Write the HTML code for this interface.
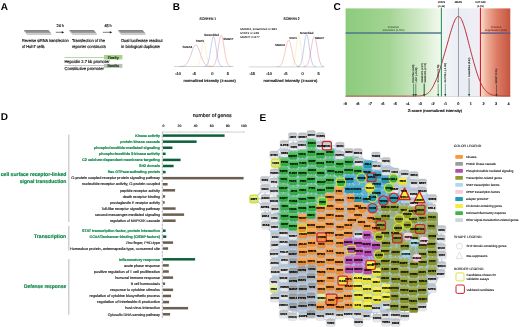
<!DOCTYPE html>
<html lang="en"><head><meta charset="utf-8"><title>Figure</title>
<style>
html,body{margin:0;padding:0;background:#fff;}
body{width:520px;height:327px;overflow:hidden;}
svg{display:block;text-rendering:geometricPrecision;font-family:"Liberation Sans",sans-serif;}
</style></head><body>
<svg width="520" height="327" viewBox="0 0 520 327">
<defs>
<linearGradient id="pl" x1="0" y1="0" x2="0" y2="1"><stop offset="0" stop-color="#7e7e7e"/><stop offset="1" stop-color="#a8a8a8"/></linearGradient>
<linearGradient id="gg" x1="0" y1="0" x2="1" y2="0"><stop offset="0" stop-color="#8ccb7c"/><stop offset="0.45" stop-color="#a3d493"/><stop offset="0.8" stop-color="#d3ebca"/><stop offset="1" stop-color="#f4faf1"/></linearGradient>
<linearGradient id="gb" x1="0" y1="0" x2="1" y2="0"><stop offset="0" stop-color="#f3f6f6"/><stop offset="0.5" stop-color="#e9edf6"/><stop offset="1" stop-color="#f1eef4"/></linearGradient>
<linearGradient id="gr" x1="0" y1="0" x2="1" y2="0"><stop offset="0" stop-color="#fae3d8"/><stop offset="0.2" stop-color="#efb09a"/><stop offset="0.55" stop-color="#dd7c66"/><stop offset="1" stop-color="#c3563f"/></linearGradient>
<linearGradient id="ng" x1="0" y1="0" x2="0" y2="1"><stop offset="0" stop-color="#b9bbbe"/><stop offset="0.5" stop-color="#d6d8da"/><stop offset="1" stop-color="#f1f1f2"/></linearGradient>
<linearGradient id="nk" x1="0" y1="0" x2="0" y2="1"><stop offset="0" stop-color="#8f9499"/><stop offset="1" stop-color="#bcc0c5"/></linearGradient>
<linearGradient id="nG" x1="0" y1="0" x2="0" y2="1"><stop offset="0" stop-color="#6fc87a"/><stop offset="0.5" stop-color="#37b246"/><stop offset="1" stop-color="#34a742"/></linearGradient><linearGradient id="nO" x1="0" y1="0" x2="0" y2="1"><stop offset="0" stop-color="#f8b371"/><stop offset="0.5" stop-color="#f5963a"/><stop offset="1" stop-color="#e68d37"/></linearGradient><linearGradient id="nB" x1="0" y1="0" x2="0" y2="1"><stop offset="0" stop-color="#63b7ca"/><stop offset="0.5" stop-color="#279bb6"/><stop offset="1" stop-color="#2592ab"/></linearGradient><linearGradient id="nT" x1="0" y1="0" x2="0" y2="1"><stop offset="0" stop-color="#acb566"/><stop offset="0.5" stop-color="#8c982a"/><stop offset="1" stop-color="#848f27"/></linearGradient><linearGradient id="nM" x1="0" y1="0" x2="0" y2="1"><stop offset="0" stop-color="#d07ec8"/><stop offset="0.5" stop-color="#be4cb2"/><stop offset="1" stop-color="#b347a7"/></linearGradient><linearGradient id="nY" x1="0" y1="0" x2="0" y2="1"><stop offset="0" stop-color="#f6f170"/><stop offset="0.5" stop-color="#f3ec38"/><stop offset="1" stop-color="#e4de35"/></linearGradient><linearGradient id="nP" x1="0" y1="0" x2="0" y2="1"><stop offset="0" stop-color="#fad9e5"/><stop offset="0.5" stop-color="#f8cadb"/><stop offset="1" stop-color="#e9bece"/></linearGradient><linearGradient id="nS" x1="0" y1="0" x2="0" y2="1"><stop offset="0" stop-color="#c1e5ee"/><stop offset="0.5" stop-color="#a9dbe8"/><stop offset="1" stop-color="#9fceda"/></linearGradient><linearGradient id="nW" x1="0" y1="0" x2="0" y2="1"><stop offset="0" stop-color="#e9f0ae"/><stop offset="0.5" stop-color="#e0ea8e"/><stop offset="1" stop-color="#d3dc85"/></linearGradient></defs>
<rect width="520" height="327" fill="#fff"/>
<text x="0.8" y="9.6" font-size="10" font-weight="bold" fill="#000" stroke="#000" stroke-width="0">A</text>
<text x="172.8" y="9.6" font-size="10" font-weight="bold" fill="#000" stroke="#000" stroke-width="0">B</text>
<text x="333.6" y="9.6" font-size="10" font-weight="bold" fill="#000" stroke="#000" stroke-width="0">C</text>
<text x="0.8" y="120.4" font-size="10" font-weight="bold" fill="#000" stroke="#000" stroke-width="0">D</text>
<text x="259.6" y="120.8" font-size="10" font-weight="bold" fill="#000" stroke="#000" stroke-width="0">E</text>
<polygon points="23.8,30 48.400000000000006,30 51.400000000000006,33.4 26.8,33.4" fill="url(#pl)"/>
<polygon points="26.8,33.4 51.400000000000006,33.4 51.400000000000006,34.9 27.400000000000002,34.9" fill="#c9c9c9"/>
<polygon points="23.8,30 26.8,33.4 27.400000000000002,34.9 24.2,31.4" fill="#b5b5b5"/>
<polygon points="69.2,30 93.80000000000001,30 96.80000000000001,33.4 72.2,33.4" fill="url(#pl)"/>
<polygon points="72.2,33.4 96.80000000000001,33.4 96.80000000000001,34.9 72.8,34.9" fill="#c9c9c9"/>
<polygon points="69.2,30 72.2,33.4 72.8,34.9 69.60000000000001,31.4" fill="#b5b5b5"/>
<polygon points="118.0,30 142.6,30 145.6,33.4 121.0,33.4" fill="url(#pl)"/>
<polygon points="121.0,33.4 145.6,33.4 145.6,34.9 121.6,34.9" fill="#c9c9c9"/>
<polygon points="118.0,30 121.0,33.4 121.6,34.9 118.4,31.4" fill="#b5b5b5"/>
<line x1="55.8" y1="32.3" x2="62.7" y2="32.3" stroke="#111" stroke-width="0.55"/>
<polygon points="64.2,32.3 61.800000000000004,31.199999999999996 61.800000000000004,33.4" fill="#111"/>
<line x1="102.8" y1="32.3" x2="110.7" y2="32.3" stroke="#111" stroke-width="0.55"/>
<polygon points="112.2,32.3 109.8,31.199999999999996 109.8,33.4" fill="#111"/>
<text x="60.2" y="27.4" font-size="4.1" text-anchor="middle" textLength="7.2" lengthAdjust="spacingAndGlyphs" fill="#222" stroke="#222" stroke-width="0.18">24 h</text>
<text x="108.0" y="27.4" font-size="4.1" text-anchor="middle" textLength="7.2" lengthAdjust="spacingAndGlyphs" fill="#222" stroke="#222" stroke-width="0.18">48 h</text>
<text x="21.9" y="42.4" font-size="4.3" textLength="46.8" lengthAdjust="spacingAndGlyphs" fill="#161616" stroke="#161616" stroke-width="0.18">Reverse siRNA transfection</text>
<text x="21.9" y="47.6" font-size="4.3" textLength="22.6" lengthAdjust="spacingAndGlyphs" fill="#161616" stroke="#161616" stroke-width="0.18">of Huh7 cells</text>
<text x="71.9" y="42.4" font-size="4.3" textLength="33.0" lengthAdjust="spacingAndGlyphs" fill="#161616" stroke="#161616" stroke-width="0.18">Transfection of the</text>
<text x="71.9" y="47.6" font-size="4.3" textLength="33.9" lengthAdjust="spacingAndGlyphs" fill="#161616" stroke="#161616" stroke-width="0.18">reporter constructs</text>
<text x="121.2" y="42.4" font-size="4.3" textLength="41.4" lengthAdjust="spacingAndGlyphs" fill="#161616" stroke="#161616" stroke-width="0.18">Dual luciferase readout</text>
<text x="121.2" y="47.6" font-size="4.3" textLength="38.6" lengthAdjust="spacingAndGlyphs" fill="#161616" stroke="#161616" stroke-width="0.18">in biological duplicate</text>
<rect x="64.4" y="57.0" width="39.8" height="0.55" fill="#7dbb55"/>
<rect x="104" y="55.0" width="18.4" height="4.5" fill="#a9d18e"/>
<text x="113.2" y="58.5" font-size="3.5" text-anchor="middle" textLength="11.0" lengthAdjust="spacingAndGlyphs" font-weight="bold" fill="#1d3a14" stroke="#1d3a14" stroke-width="0.18">Firefly</text>
<text x="64.4" y="62.6" font-size="4.3" textLength="45.2" lengthAdjust="spacingAndGlyphs" fill="#161616" stroke="#161616" stroke-width="0.18">Hepcidin 2.7 kb promoter</text>
<rect x="64.4" y="65.2" width="39.8" height="0.55" fill="#9a9a9a"/>
<rect x="104" y="63.9" width="18.4" height="4.0" fill="#b9c4b6"/>
<text x="113.2" y="67.1" font-size="3.5" text-anchor="middle" textLength="11.4" lengthAdjust="spacingAndGlyphs" font-weight="bold" fill="#2a332a" stroke="#2a332a" stroke-width="0.18">Renilla</text>
<text x="64.4" y="70.2" font-size="4.3" textLength="39.6" lengthAdjust="spacingAndGlyphs" fill="#161616" stroke="#161616" stroke-width="0.18">Constitutive promoter</text>
<text x="207.8" y="20.3" font-size="3.7" text-anchor="middle" textLength="16.4" lengthAdjust="spacingAndGlyphs" fill="#222" stroke="#222" stroke-width="0.18">SCREEN 1</text>
<rect x="174" y="66.4" width="59.4" height="0.5" fill="#a3a9b8"/>
<path d="M179.6,66.57 L180.1,66.55 L180.6,66.53 L181.1,66.50 L181.6,66.45 L182.1,66.39 L182.6,66.31 L183.1,66.20 L183.6,66.05 L184.1,65.86 L184.6,65.62 L185.1,65.32 L185.6,64.94 L186.1,64.48 L186.6,63.93 L187.1,63.27 L187.6,62.49 L188.1,61.60 L188.6,60.59 L189.1,59.47 L189.6,58.24 L190.1,56.92 L190.6,55.52 L191.1,54.08 L191.6,52.63 L192.1,51.20 L192.6,49.83 L193.1,48.56 L193.6,47.43 L194.1,46.49 L194.6,45.75 L195.1,45.26 L195.6,45.02 L196.1,45.05 L196.6,45.34 L197.1,45.88 L197.6,46.66 L198.1,47.64 L198.6,48.80 L199.1,50.09 L199.6,51.48 L200.1,52.92 L200.6,54.37 L201.1,55.80 L201.6,57.19 L202.1,58.49 L202.6,59.70 L203.1,60.81 L203.6,61.79 L204.1,62.66 L204.6,63.41 L205.1,64.05 L205.6,64.58 L206.1,65.03 L206.6,65.39 L207.1,65.68 L207.6,65.91 L208.1,66.08 L208.6,66.22 L209.1,66.33 L209.6,66.40 L210.1,66.46 L210.6,66.50 L211.1,66.53 L211.6,66.55" fill="none" stroke="#a8527a" stroke-width="0.36" opacity="0.9"/>
<path d="M195.5,66.56 L196.0,66.52 L196.5,66.43 L197.0,66.27 L197.5,66.00 L198.0,65.53 L198.5,64.80 L199.0,63.70 L199.5,62.16 L200.0,60.10 L200.5,57.52 L201.0,54.51 L201.5,51.24 L202.0,48.00 L202.5,45.10 L203.0,42.90 L203.5,41.69 L204.0,41.61 L204.5,42.70 L205.0,44.79 L205.5,47.62 L206.0,50.85 L206.5,54.13 L207.0,57.18 L207.5,59.81 L208.0,61.94 L208.5,63.54 L209.0,64.69 L209.5,65.46 L210.0,65.95 L210.5,66.25 L211.0,66.42 L211.5,66.51 L212.0,66.56" fill="none" stroke="#f3d48a" stroke-width="0.36" opacity="0.9"/>
<path d="M203.8,66.55 L204.3,66.51 L204.8,66.44 L205.3,66.31 L205.8,66.10 L206.3,65.76 L206.8,65.25 L207.3,64.49 L207.8,63.43 L208.3,61.99 L208.8,60.11 L209.3,57.79 L209.8,55.03 L210.3,51.92 L210.8,48.60 L211.3,45.28 L211.8,42.19 L212.3,39.60 L212.8,37.74 L213.3,36.80 L213.8,36.86 L214.3,37.92 L214.8,39.88 L215.3,42.54 L215.8,45.67 L216.3,49.00 L216.8,52.30 L217.3,55.38 L217.8,58.09 L218.3,60.36 L218.8,62.18 L219.3,63.58 L219.8,64.60 L220.3,65.32 L220.8,65.81 L221.3,66.13 L221.8,66.33 L222.3,66.45 L222.8,66.52" fill="none" stroke="#5a6ad0" stroke-width="0.36" opacity="0.9"/>
<path d="M210.8,66.55 L211.3,66.51 L211.8,66.44 L212.3,66.33 L212.8,66.15 L213.3,65.86 L213.8,65.44 L214.3,64.81 L214.8,63.94 L215.3,62.76 L215.8,61.21 L216.3,59.26 L216.8,56.91 L217.3,54.16 L217.8,51.11 L218.3,47.88 L218.8,44.63 L219.3,41.58 L219.8,38.93 L220.3,36.90 L220.8,35.66 L221.3,35.31 L221.8,35.88 L222.3,37.32 L222.8,39.52 L223.3,42.28 L223.8,45.40 L224.3,48.66 L224.8,51.87 L225.3,54.85 L225.8,57.51 L226.3,59.77 L226.8,61.62 L227.3,63.07 L227.8,64.18 L228.3,64.98 L228.8,65.55 L229.3,65.94 L229.8,66.20 L230.3,66.36 L230.8,66.46 L231.3,66.52" fill="none" stroke="#e0504a" stroke-width="0.36" opacity="0.9"/>
<text x="187.4" y="48.3" font-size="3.0" text-anchor="middle" textLength="9.6" lengthAdjust="spacingAndGlyphs" fill="#161616" stroke="#161616" stroke-width="0.11">SMAD4</text>
<text x="199.8" y="42.0" font-size="3.0" text-anchor="middle" textLength="8.2" lengthAdjust="spacingAndGlyphs" fill="#161616" stroke="#161616" stroke-width="0.11">STAT3</text>
<text x="211.4" y="36.3" font-size="3.0" text-anchor="middle" textLength="15.0" lengthAdjust="spacingAndGlyphs" fill="#161616" stroke="#161616" stroke-width="0.11">Scrambled</text>
<text x="228.3" y="39.8" font-size="3.0" text-anchor="middle" textLength="10.2" lengthAdjust="spacingAndGlyphs" fill="#161616" stroke="#161616" stroke-width="0.11">SMAD7</text>
<text x="178.0" y="74.6" font-size="3.9" text-anchor="middle" fill="#161616" stroke="#161616" stroke-width="0.18">-10</text>
<text x="194.3" y="74.6" font-size="3.9" text-anchor="middle" fill="#161616" stroke="#161616" stroke-width="0.18">-5</text>
<text x="212.4" y="74.6" font-size="3.9" text-anchor="middle" fill="#161616" stroke="#161616" stroke-width="0.18">0</text>
<text x="227.8" y="74.6" font-size="3.9" text-anchor="middle" fill="#161616" stroke="#161616" stroke-width="0.18">5</text>
<text x="209.7" y="81.7" font-size="3.9" text-anchor="middle" textLength="52.4" lengthAdjust="spacingAndGlyphs" fill="#161616" stroke="#161616" stroke-width="0.18">normalized intensity (z-score)</text>
<text x="291.5" y="20.3" font-size="3.7" text-anchor="middle" textLength="16.0" lengthAdjust="spacingAndGlyphs" fill="#222" stroke="#222" stroke-width="0.18">SCREEN 2</text>
<text x="240.0" y="29.8" font-size="2.8" textLength="37.0" lengthAdjust="spacingAndGlyphs" fill="#161616" stroke="#161616" stroke-width="0.07">SMAD4, scrambled n=881</text>
<text x="240.0" y="33.8" font-size="2.8" textLength="19.0" lengthAdjust="spacingAndGlyphs" fill="#161616" stroke="#161616" stroke-width="0.07">STAT3 n=249</text>
<text x="240.0" y="37.9" font-size="2.8" textLength="19.6" lengthAdjust="spacingAndGlyphs" fill="#161616" stroke="#161616" stroke-width="0.07">SMAD7 n=877</text>
<rect x="248.8" y="66.7" width="75.6" height="0.5" fill="#a3a9b8"/>
<path d="M276.7,66.76 L277.2,66.73 L277.7,66.68 L278.2,66.61 L278.7,66.50 L279.2,66.33 L279.7,66.09 L280.2,65.74 L280.7,65.26 L281.2,64.62 L281.7,63.77 L282.2,62.70 L282.7,61.36 L283.2,59.76 L283.7,57.89 L284.2,55.78 L284.7,53.47 L285.2,51.06 L285.7,48.62 L286.2,46.29 L286.7,44.18 L287.2,42.43 L287.7,41.13 L288.2,40.38 L288.7,40.22 L289.2,40.67 L289.7,41.69 L290.2,43.22 L290.7,45.16 L291.2,47.39 L291.7,49.79 L292.2,52.23 L292.7,54.60 L293.2,56.82 L293.7,58.82 L294.2,60.56 L294.7,62.04 L295.2,63.24 L295.7,64.21 L296.2,64.95 L296.7,65.51 L297.2,65.92 L297.7,66.22 L298.2,66.42 L298.7,66.56 L299.2,66.65 L299.7,66.71 L300.2,66.75" fill="none" stroke="#e0603a" stroke-width="0.36" opacity="0.9"/>
<path d="M290.3,66.75 L290.8,66.69 L291.3,66.59 L291.8,66.38 L292.3,66.03 L292.8,65.43 L293.3,64.50 L293.8,63.10 L294.3,61.12 L294.8,58.48 L295.3,55.19 L295.8,51.34 L296.3,47.16 L296.8,43.01 L297.3,39.31 L297.8,36.49 L298.3,34.94 L298.8,34.85 L299.3,36.23 L299.8,38.91 L300.3,42.53 L300.8,46.65 L301.3,50.85 L301.8,54.75 L302.3,58.12 L302.8,60.84 L303.3,62.89 L303.8,64.36 L304.3,65.34 L304.8,65.97 L305.3,66.35 L305.8,66.57 L306.3,66.69 L306.8,66.75" fill="none" stroke="#f3cf7a" stroke-width="0.36" opacity="0.9"/>
<path d="M296.9,66.75 L297.4,66.71 L297.9,66.63 L298.4,66.49 L298.9,66.26 L299.4,65.90 L299.9,65.35 L300.4,64.53 L300.9,63.39 L301.4,61.83 L301.9,59.81 L302.4,57.31 L302.9,54.34 L303.4,50.99 L303.9,47.41 L304.4,43.84 L304.9,40.51 L305.4,37.72 L305.9,35.72 L306.4,34.71 L306.9,34.77 L307.4,35.92 L307.9,38.02 L308.4,40.89 L308.9,44.26 L309.4,47.85 L309.9,51.40 L310.4,54.71 L310.9,57.63 L311.4,60.08 L311.9,62.04 L312.4,63.54 L312.9,64.65 L313.4,65.42 L313.9,65.95 L314.4,66.29 L314.9,66.51 L315.4,66.64 L315.9,66.71" fill="none" stroke="#4a63c8" stroke-width="0.36" opacity="0.9"/>
<path d="M303.4,66.75 L303.9,66.72 L304.4,66.65 L304.9,66.55 L305.4,66.39 L305.9,66.14 L306.4,65.77 L306.9,65.24 L307.4,64.49 L307.9,63.47 L308.4,62.14 L308.9,60.46 L309.4,58.40 L309.9,55.99 L310.4,53.26 L310.9,50.31 L311.4,47.26 L311.9,44.29 L312.4,41.57 L312.9,39.31 L313.4,37.65 L313.9,36.75 L314.4,36.67 L314.9,37.41 L315.4,38.92 L315.9,41.08 L316.4,43.72 L316.9,46.66 L317.4,49.70 L317.9,52.68 L318.4,55.47 L318.9,57.95 L319.4,60.08 L319.9,61.83 L320.4,63.23 L320.9,64.31 L321.4,65.10 L321.9,65.68 L322.4,66.08 L322.9,66.35 L323.4,66.53 L323.9,66.64" fill="none" stroke="#c8407a" stroke-width="0.36" opacity="0.9"/>
<text x="280.0" y="46.4" font-size="2.9" text-anchor="middle" textLength="9.8" lengthAdjust="spacingAndGlyphs" fill="#161616" stroke="#161616" stroke-width="0.11">SMAD4</text>
<text x="293.0" y="38.5" font-size="2.9" text-anchor="middle" textLength="7.6" lengthAdjust="spacingAndGlyphs" fill="#161616" stroke="#161616" stroke-width="0.11">STAT3</text>
<text x="306.6" y="34.2" font-size="2.9" text-anchor="middle" textLength="13.8" lengthAdjust="spacingAndGlyphs" fill="#161616" stroke="#161616" stroke-width="0.11">Scrambled</text>
<text x="319.6" y="38.5" font-size="2.9" text-anchor="middle" textLength="9.4" lengthAdjust="spacingAndGlyphs" fill="#161616" stroke="#161616" stroke-width="0.11">SMAD7</text>
<text x="252.2" y="74.8" font-size="3.9" text-anchor="middle" fill="#161616" stroke="#161616" stroke-width="0.18">-15</text>
<text x="269.0" y="74.8" font-size="3.9" text-anchor="middle" fill="#161616" stroke="#161616" stroke-width="0.18">-10</text>
<text x="285.6" y="74.8" font-size="3.9" text-anchor="middle" fill="#161616" stroke="#161616" stroke-width="0.18">-5</text>
<text x="302.6" y="74.8" font-size="3.9" text-anchor="middle" fill="#161616" stroke="#161616" stroke-width="0.18">0</text>
<text x="318.7" y="74.8" font-size="3.9" text-anchor="middle" fill="#161616" stroke="#161616" stroke-width="0.18">5</text>
<text x="290.4" y="81.5" font-size="3.9" text-anchor="middle" textLength="53.8" lengthAdjust="spacingAndGlyphs" fill="#161616" stroke="#161616" stroke-width="0.18">normalized intensity (z-score)</text>
<rect x="345.6" y="8.4" width="95.76" height="88.1" fill="url(#gg)"/>
<rect x="441.36" y="8.4" width="39.09" height="88.1" fill="url(#gb)"/>
<rect x="480.45" y="8.4" width="29.85" height="88.1" fill="url(#gr)"/>
<rect x="345.6" y="32.3" width="95.76" height="1.4" fill="#4a6f8c"/>
<rect x="480.45" y="32.4" width="29.85" height="1.4" fill="#5f5a86"/>
<path d="M345.6,96.20 L346.1,96.20 L346.6,96.20 L347.1,96.20 L347.6,96.20 L348.1,96.20 L348.6,96.20 L349.1,96.20 L349.6,96.20 L350.1,96.20 L350.6,96.20 L351.1,96.20 L351.6,96.20 L352.1,96.20 L352.6,96.20 L353.1,96.20 L353.6,96.20 L354.1,96.20 L354.6,96.20 L355.1,96.20 L355.6,96.20 L356.1,96.20 L356.6,96.20 L357.1,96.20 L357.6,96.20 L358.1,96.20 L358.6,96.20 L359.1,96.20 L359.6,96.20 L360.1,96.20 L360.6,96.20 L361.1,96.20 L361.6,96.20 L362.1,96.20 L362.6,96.20 L363.1,96.20 L363.6,96.20 L364.1,96.20 L364.6,96.20 L365.1,96.20 L365.6,96.20 L366.1,96.20 L366.6,96.20 L367.1,96.20 L367.6,96.20 L368.1,96.20 L368.6,96.20 L369.1,96.20 L369.6,96.20 L370.1,96.20 L370.6,96.20 L371.1,96.20 L371.6,96.20 L372.1,96.20 L372.6,96.20 L373.1,96.20 L373.6,96.20 L374.1,96.20 L374.6,96.20 L375.1,96.20 L375.6,96.20 L376.1,96.20 L376.6,96.20 L377.1,96.20 L377.6,96.20 L378.1,96.20 L378.6,96.20 L379.1,96.20 L379.6,96.20 L380.1,96.20 L380.6,96.20 L381.1,96.20 L381.6,96.20 L382.1,96.20 L382.6,96.20 L383.1,96.20 L383.6,96.20 L384.1,96.20 L384.6,96.20 L385.1,96.20 L385.6,96.20 L386.1,96.20 L386.6,96.20 L387.1,96.20 L387.6,96.20 L388.1,96.20 L388.6,96.20 L389.1,96.20 L389.6,96.20 L390.1,96.20 L390.6,96.20 L391.1,96.20 L391.6,96.20 L392.1,96.20 L392.6,96.20 L393.1,96.20 L393.6,96.20 L394.1,96.20 L394.6,96.20 L395.1,96.20 L395.6,96.20 L396.1,96.20 L396.6,96.20 L397.1,96.20 L397.6,96.20 L398.1,96.20 L398.6,96.20 L399.1,96.20 L399.6,96.20 L400.1,96.20 L400.6,96.20 L401.1,96.20 L401.6,96.20 L402.1,96.20 L402.6,96.20 L403.1,96.20 L403.6,96.20 L404.1,96.20 L404.6,96.20 L405.1,96.20 L405.6,96.20 L406.1,96.20 L406.6,96.20 L407.1,96.20 L407.6,96.19 L408.1,96.19 L408.6,96.19 L409.1,96.19 L409.6,96.19 L410.1,96.19 L410.6,96.18 L411.1,96.18 L411.6,96.18 L412.1,96.17 L412.6,96.17 L413.1,96.16 L413.6,96.15 L414.1,96.15 L414.6,96.14 L415.1,96.12 L415.6,96.11 L416.1,96.10 L416.6,96.08 L417.1,96.06 L417.6,96.04 L418.1,96.01 L418.6,95.98 L419.1,95.94 L419.6,95.90 L420.1,95.86 L420.6,95.81 L421.1,95.75 L421.6,95.68 L422.1,95.60 L422.6,95.52 L423.1,95.42 L423.6,95.31 L424.1,95.19 L424.6,95.04 L425.1,94.85 L425.6,94.62 L426.1,94.37 L426.6,94.09 L427.1,93.77 L427.6,93.42 L428.1,93.02 L428.6,92.59 L429.1,92.10 L429.6,91.57 L430.1,90.99 L430.6,90.36 L431.1,89.67 L431.6,88.92 L432.1,88.11 L432.6,87.24 L433.1,86.30 L433.6,85.30 L434.1,84.24 L434.6,83.17 L435.1,82.15 L435.6,81.08 L436.1,79.95 L436.6,78.76 L437.1,77.52 L437.6,76.21 L438.1,74.85 L438.6,73.44 L439.1,71.97 L439.6,70.45 L440.1,68.87 L440.6,67.25 L441.1,65.58 L441.6,63.86 L442.1,62.10 L442.6,60.30 L443.1,58.47 L443.6,56.72 L444.1,55.09 L444.6,53.43 L445.1,51.74 L445.6,50.03 L446.1,48.29 L446.6,46.54 L447.1,44.77 L447.6,42.99 L448.1,41.21 L448.6,39.43 L449.1,37.66 L449.6,35.90 L450.1,34.16 L450.6,32.46 L451.1,30.79 L451.6,29.17 L452.1,27.60 L452.6,26.09 L453.1,24.66 L453.6,23.31 L454.1,22.05 L454.6,20.90 L455.1,19.85 L455.6,18.93 L456.1,18.13 L456.6,17.48 L457.1,16.97 L457.6,16.62 L458.1,16.43 L458.6,16.41 L459.1,16.57 L459.6,16.89 L460.1,17.38 L460.6,18.02 L461.1,18.82 L461.6,19.75 L462.1,20.82 L462.6,22.02 L463.1,23.33 L463.6,24.75 L464.1,26.27 L464.6,27.88 L465.1,29.56 L465.6,31.31 L466.1,33.12 L466.6,34.98 L467.1,36.87 L467.6,38.80 L468.1,40.75 L468.6,42.72 L469.1,44.69 L469.6,46.66 L470.1,48.62 L470.6,50.57 L471.1,52.50 L471.6,54.40 L472.1,56.27 L472.6,58.11 L473.1,59.91 L473.6,61.66 L474.1,63.37 L474.6,65.10 L475.1,66.89 L475.6,68.62 L476.1,70.29 L476.6,71.91 L477.1,73.47 L477.6,74.96 L478.1,76.40 L478.6,77.76 L479.1,79.07 L479.6,80.31 L480.1,81.49 L480.6,82.60 L481.1,83.66 L481.6,84.65 L482.1,85.58 L482.6,86.46 L483.1,87.28 L483.6,88.04 L484.1,88.75 L484.6,89.42 L485.1,90.03 L485.6,90.60 L486.1,91.13 L486.6,91.61 L487.1,92.06 L487.6,92.46 L488.1,92.84 L488.6,93.18 L489.1,93.49 L489.6,93.78 L490.1,94.04 L490.6,94.27 L491.1,94.48 L491.6,94.68 L492.1,94.85 L492.6,95.00 L493.1,95.14 L493.6,95.27 L494.1,95.38 L494.6,95.48 L495.1,95.57 L495.6,95.65 L496.1,95.72 L496.6,95.78 L497.1,95.83 L497.6,95.88 L498.1,95.92 L498.6,95.96 L499.1,95.99 L499.6,96.02 L500.1,96.05 L500.6,96.07 L501.1,96.09 L501.6,96.10 L502.1,96.12 L502.6,96.13 L503.1,96.14 L503.6,96.15 L504.1,96.16 L504.6,96.16 L505.1,96.17 L505.6,96.17 L506.1,96.18 L506.6,96.18 L507.1,96.18 L507.6,96.19 L508.1,96.19 L508.6,96.19 L509.1,96.19 L509.6,96.19 L510.1,96.19" fill="none" stroke="#b8222e" stroke-width="0.95"/>
<rect x="458.05" y="7.6" width="0.7" height="88.9" fill="#8a7670"/>
<rect x="440.86" y="7.6" width="1.0" height="88.9" fill="#1f8a4c"/>
<rect x="479.90" y="7.6" width="1.1" height="88.9" fill="#d9202a"/>
<rect x="345.6" y="96.2" width="164.7" height="0.4" fill="#b59a86" opacity="0.8"/>
<text x="393.2" y="27.5" font-size="2.6" text-anchor="middle" textLength="11.0" lengthAdjust="spacingAndGlyphs" fill="#3f5f3f" stroke="#3f5f3f" stroke-width="0.05">Putative</text>
<text x="393.4" y="31.3" font-size="2.6" text-anchor="middle" textLength="22.0" lengthAdjust="spacingAndGlyphs" fill="#3f5f3f" stroke="#3f5f3f" stroke-width="0.05">activators (1451)</text>
<text x="496.0" y="27.5" font-size="2.6" text-anchor="middle" textLength="10.6" lengthAdjust="spacingAndGlyphs" fill="#7a3028" stroke="#7a3028" stroke-width="0.05">Putative</text>
<text x="496.0" y="31.3" font-size="2.6" text-anchor="middle" textLength="22.0" lengthAdjust="spacingAndGlyphs" fill="#7a3028" stroke="#7a3028" stroke-width="0.05">suppressors (508)</text>
<text x="441.3592" y="3.2" font-size="2.4" text-anchor="middle" textLength="7.4" lengthAdjust="spacingAndGlyphs" fill="#161616" stroke="#161616" stroke-width="0.11">STAT3</text>
<text x="441.3592" y="6.7" font-size="2.4" text-anchor="middle" textLength="7.4" lengthAdjust="spacingAndGlyphs" fill="#161616" stroke="#161616" stroke-width="0.11">(-1.36)</text>
<text x="458.4" y="3.2" font-size="2.4" text-anchor="middle" textLength="7.4" lengthAdjust="spacingAndGlyphs" fill="#161616" stroke="#161616" stroke-width="0.11">MEAN</text>
<text x="480.45279999999997" y="3.2" font-size="2.4" text-anchor="middle" textLength="10.4" lengthAdjust="spacingAndGlyphs" fill="#161616" stroke="#161616" stroke-width="0.11">CUT OFF</text>
<text x="480.45279999999997" y="6.7" font-size="2.4" text-anchor="middle" textLength="6.6" lengthAdjust="spacingAndGlyphs" fill="#161616" stroke="#161616" stroke-width="0.11">(1.76)</text>
<line x1="413.6" y1="83.6" x2="413.6" y2="94.9" stroke="#14522e" stroke-width="0.55"/>
<polygon points="413.6,96.7 412.52,94.1 414.68,94.1" fill="#14522e"/>
<text x="0" y="0" font-size="2.5" textLength="18.0" lengthAdjust="spacingAndGlyphs" fill="#1f2f22" stroke="#1f2f22" stroke-width="0.11" transform="translate(413.75,82.6) rotate(-90)">CEBPG (-3.63)</text>
<line x1="415.8" y1="83.6" x2="415.8" y2="94.9" stroke="#14522e" stroke-width="0.55"/>
<polygon points="415.8,96.7 414.72,94.1 416.88,94.1" fill="#14522e"/>
<text x="0" y="0" font-size="2.5" textLength="15.0" lengthAdjust="spacingAndGlyphs" fill="#1f2f22" stroke="#1f2f22" stroke-width="0.11" transform="translate(416.65,82.6) rotate(-90)">HGF (-3.46)</text>
<line x1="424.2" y1="83.6" x2="424.2" y2="94.9" stroke="#1a5a35" stroke-width="1.0"/>
<polygon points="424.2,96.7 422.97,94.1 425.43,94.1" fill="#1a5a35"/>
<text x="0" y="0" font-size="2.5" textLength="19.4" lengthAdjust="spacingAndGlyphs" fill="#1f2f22" stroke="#1f2f22" stroke-width="0.11" transform="translate(422.85,82.6) rotate(-90)">SMAD4 #1 (-2.87)</text>
<text x="0" y="0" font-size="2.5" textLength="19.4" lengthAdjust="spacingAndGlyphs" fill="#1f2f22" stroke="#1f2f22" stroke-width="0.11" transform="translate(425.75,82.6) rotate(-90)">SMAD4 #2 (-2.70)</text>
<line x1="438.2" y1="83.6" x2="438.2" y2="94.9" stroke="#14522e" stroke-width="0.55"/>
<polygon points="438.2,96.7 437.12,94.1 439.28,94.1" fill="#14522e"/>
<text x="0" y="0" font-size="2.5" textLength="18.0" lengthAdjust="spacingAndGlyphs" fill="#1f2f22" stroke="#1f2f22" stroke-width="0.11" transform="translate(439.05,82.6) rotate(-90)">SMAD1 (-1.76)</text>
<line x1="445.3" y1="83.6" x2="445.3" y2="94.9" stroke="#14522e" stroke-width="0.55"/>
<polygon points="445.3,96.7 444.22,94.1 446.38,94.1" fill="#14522e"/>
<text x="0" y="0" font-size="2.5" textLength="19.4" lengthAdjust="spacingAndGlyphs" fill="#1f2f22" stroke="#1f2f22" stroke-width="0.11" transform="translate(446.25,82.6) rotate(-90)">BMPR1A (-1.09)</text>
<line x1="469.1" y1="78.2" x2="469.1" y2="94.9" stroke="#14522e" stroke-width="0.55"/>
<polygon points="469.1,96.7 468.02,94.1 470.18,94.1" fill="#14522e"/>
<text x="0" y="0" font-size="2.5" textLength="19.4" lengthAdjust="spacingAndGlyphs" fill="#1f2f22" stroke="#1f2f22" stroke-width="0.11" transform="translate(470.15,77.0) rotate(-90)">Scrambled (0.82)</text>
<line x1="496.5" y1="84.6" x2="496.5" y2="94.9" stroke="#3a3a22" stroke-width="0.6"/>
<polygon points="496.5,96.7 495.40,94.1 497.60,94.1" fill="#3a3a22"/>
<text x="0" y="0" font-size="2.5" textLength="15.0" lengthAdjust="spacingAndGlyphs" fill="#1f2f22" stroke="#1f2f22" stroke-width="0.11" transform="translate(497.35,83.6) rotate(-90)">SMAD7 (3.04)</text>
<text x="345.13" y="104.9" font-size="3.8" text-anchor="middle" fill="#111" stroke="#111" stroke-width="0.18">-9</text>
<text x="357.65999999999997" y="104.9" font-size="3.8" text-anchor="middle" fill="#111" stroke="#111" stroke-width="0.18">-8</text>
<text x="370.19" y="104.9" font-size="3.8" text-anchor="middle" fill="#111" stroke="#111" stroke-width="0.18">-7</text>
<text x="382.71999999999997" y="104.9" font-size="3.8" text-anchor="middle" fill="#111" stroke="#111" stroke-width="0.18">-6</text>
<text x="395.25" y="104.9" font-size="3.8" text-anchor="middle" fill="#111" stroke="#111" stroke-width="0.18">-5</text>
<text x="407.78" y="104.9" font-size="3.8" text-anchor="middle" fill="#111" stroke="#111" stroke-width="0.18">-4</text>
<text x="420.31" y="104.9" font-size="3.8" text-anchor="middle" fill="#111" stroke="#111" stroke-width="0.18">-3</text>
<text x="432.84" y="104.9" font-size="3.8" text-anchor="middle" fill="#111" stroke="#111" stroke-width="0.18">-2</text>
<text x="445.37" y="104.9" font-size="3.8" text-anchor="middle" fill="#111" stroke="#111" stroke-width="0.18">-1</text>
<text x="458.4" y="104.9" font-size="3.8" text-anchor="middle" fill="#111" stroke="#111" stroke-width="0.18">0</text>
<text x="470.92999999999995" y="104.9" font-size="3.8" text-anchor="middle" fill="#111" stroke="#111" stroke-width="0.18">1</text>
<text x="483.46" y="104.9" font-size="3.8" text-anchor="middle" fill="#111" stroke="#111" stroke-width="0.18">2</text>
<text x="495.98999999999995" y="104.9" font-size="3.8" text-anchor="middle" fill="#111" stroke="#111" stroke-width="0.18">3</text>
<text x="508.52" y="104.9" font-size="3.8" text-anchor="middle" fill="#111" stroke="#111" stroke-width="0.18">4</text>
<text x="435.0" y="111.9" font-size="3.8" text-anchor="middle" textLength="54.5" lengthAdjust="spacingAndGlyphs" fill="#111" stroke="#111" stroke-width="0.18">Z-score (normalized intensity)</text>
<text x="212.2" y="116.7" font-size="5.0" text-anchor="middle" textLength="39.0" lengthAdjust="spacingAndGlyphs" fill="#222" stroke="#222" stroke-width="0.2">number of genes</text>
<text x="163.4" y="127.0" font-size="3.4" text-anchor="middle" fill="#222" stroke="#222" stroke-width="0.18">0</text>
<text x="179.5" y="127.0" font-size="3.4" text-anchor="middle" fill="#222" stroke="#222" stroke-width="0.18">20</text>
<text x="195.60000000000002" y="127.0" font-size="3.4" text-anchor="middle" fill="#222" stroke="#222" stroke-width="0.18">40</text>
<text x="211.70000000000002" y="127.0" font-size="3.4" text-anchor="middle" fill="#222" stroke="#222" stroke-width="0.18">60</text>
<text x="227.8" y="127.0" font-size="3.4" text-anchor="middle" fill="#222" stroke="#222" stroke-width="0.18">80</text>
<text x="243.9" y="127.0" font-size="3.4" text-anchor="middle" fill="#222" stroke="#222" stroke-width="0.18">100</text>
<rect x="162.9" y="131.8" width="82" height="0.45" fill="#9a9a9a"/>
<rect x="162.80" y="131.0" width="0.35" height="1.0" fill="#9a9a9a"/>
<rect x="178.90" y="131.0" width="0.35" height="1.0" fill="#9a9a9a"/>
<rect x="195.00" y="131.0" width="0.35" height="1.0" fill="#9a9a9a"/>
<rect x="211.10" y="131.0" width="0.35" height="1.0" fill="#9a9a9a"/>
<rect x="227.20" y="131.0" width="0.35" height="1.0" fill="#9a9a9a"/>
<rect x="243.30" y="131.0" width="0.35" height="1.0" fill="#9a9a9a"/>
<line x1="162.3" y1="132" x2="162.3" y2="318" stroke="#7a7a7a" stroke-width="0.55" stroke-dasharray="2.4 1.0"/>
<text x="159.9" y="136.85" font-size="3.7" text-anchor="end" textLength="24.6" lengthAdjust="spacingAndGlyphs" font-weight="bold" fill="#168a4e" stroke="#168a4e" stroke-width="0.18">Kinase activity</text>
<rect x="162.9" y="134.35" width="61.7" height="2.5" fill="#0c6238"/>
<text x="159.9" y="142.93" font-size="3.7" text-anchor="end" textLength="39.7" lengthAdjust="spacingAndGlyphs" font-weight="bold" fill="#168a4e" stroke="#168a4e" stroke-width="0.18">protein kinase cascade</text>
<rect x="162.9" y="140.43" width="33.7" height="2.5" fill="#0c6238"/>
<text x="159.9" y="149.01" font-size="3.7" text-anchor="end" textLength="66.0" lengthAdjust="spacingAndGlyphs" font-weight="bold" fill="#168a4e" stroke="#168a4e" stroke-width="0.18">phosphoinositide-mediated signaling</text>
<rect x="162.9" y="146.51" width="9.5" height="2.5" fill="#0c6238"/>
<text x="159.9" y="155.09" font-size="3.7" text-anchor="end" textLength="61.0" lengthAdjust="spacingAndGlyphs" font-weight="bold" fill="#168a4e" stroke="#168a4e" stroke-width="0.18">phosphoinositide 3-kinase activity</text>
<rect x="162.9" y="152.59" width="2.7" height="2.5" fill="#0c6238"/>
<text x="159.9" y="161.17" font-size="3.7" text-anchor="end" textLength="77.8" lengthAdjust="spacingAndGlyphs" font-weight="bold" fill="#168a4e" stroke="#168a4e" stroke-width="0.18">C2 calcium-dependent membrane targeting</text>
<rect x="162.9" y="158.67" width="17.7" height="2.5" fill="#0c6238"/>
<text x="159.9" y="167.25" font-size="3.7" text-anchor="end" textLength="20.9" lengthAdjust="spacingAndGlyphs" font-weight="bold" fill="#168a4e" stroke="#168a4e" stroke-width="0.18">SH2 domain</text>
<rect x="162.9" y="164.75" width="10.7" height="2.5" fill="#0c6238"/>
<text x="159.9" y="173.32999999999998" font-size="3.7" text-anchor="end" textLength="52.2" lengthAdjust="spacingAndGlyphs" font-weight="bold" fill="#168a4e" stroke="#168a4e" stroke-width="0.18">Ras GTPase-activating protein</text>
<rect x="162.9" y="170.83" width="2.7" height="2.5" fill="#0c6238"/>
<text x="159.9" y="179.41" font-size="3.7" text-anchor="end" textLength="88.6" lengthAdjust="spacingAndGlyphs" fill="#333" stroke="#333" stroke-width="0.18">G-protein coupled receptor protein signaling pathway</text>
<rect x="162.9" y="176.91" width="80.7" height="2.5" fill="#6a5f52"/>
<text x="159.9" y="185.49" font-size="3.7" text-anchor="end" textLength="77.9" lengthAdjust="spacingAndGlyphs" fill="#333" stroke="#333" stroke-width="0.18">nucleotide receptor activity, G-protein coupled</text>
<rect x="162.9" y="182.99" width="4.7" height="2.5" fill="#6a5f52"/>
<text x="159.9" y="191.57" font-size="3.7" text-anchor="end" textLength="39.7" lengthAdjust="spacingAndGlyphs" fill="#333" stroke="#333" stroke-width="0.18">peptide receptor activity</text>
<rect x="162.9" y="189.07" width="12.2" height="2.5" fill="#6a5f52"/>
<text x="159.9" y="197.64999999999998" font-size="3.7" text-anchor="end" textLength="37.2" lengthAdjust="spacingAndGlyphs" fill="#333" stroke="#333" stroke-width="0.18">death receptor binding</text>
<rect x="162.9" y="195.15" width="2.2" height="2.5" fill="#6a5f52"/>
<text x="159.9" y="203.73" font-size="3.7" text-anchor="end" textLength="49.7" lengthAdjust="spacingAndGlyphs" fill="#333" stroke="#333" stroke-width="0.18">prostaglandin E receptor activity</text>
<rect x="162.9" y="201.23" width="1.8" height="2.5" fill="#6a5f52"/>
<text x="159.9" y="209.81" font-size="3.7" text-anchor="end" textLength="58.5" lengthAdjust="spacingAndGlyphs" fill="#333" stroke="#333" stroke-width="0.18">Toll-like receptor signaling pathway</text>
<rect x="162.9" y="207.31" width="12.7" height="2.5" fill="#6a5f52"/>
<text x="159.9" y="215.89" font-size="3.7" text-anchor="end" textLength="64.8" lengthAdjust="spacingAndGlyphs" fill="#333" stroke="#333" stroke-width="0.18">second-messenger-mediated signaling</text>
<rect x="162.9" y="213.39" width="21.2" height="2.5" fill="#6a5f52"/>
<text x="159.9" y="221.97" font-size="3.7" text-anchor="end" textLength="49.7" lengthAdjust="spacingAndGlyphs" fill="#333" stroke="#333" stroke-width="0.18">regulation of MAPKKK cascade</text>
<rect x="162.9" y="219.47" width="12.7" height="2.5" fill="#6a5f52"/>
<text x="159.9" y="231.95" font-size="3.7" text-anchor="end" textLength="77.9" lengthAdjust="spacingAndGlyphs" font-weight="bold" fill="#168a4e" stroke="#168a4e" stroke-width="0.18">STAT transcription factor, protein interaction</text>
<rect x="162.9" y="229.45" width="2.7" height="2.5" fill="#0c6238"/>
<text x="159.9" y="237.89999999999998" font-size="3.7" text-anchor="end" textLength="70.3" lengthAdjust="spacingAndGlyphs" font-weight="bold" fill="#168a4e" stroke="#168a4e" stroke-width="0.18">CCAAT/enhancer-binding (C/EBP factors)</text>
<rect x="162.9" y="235.40" width="3.4" height="2.5" fill="#0c6238"/>
<text x="159.9" y="243.85" font-size="3.7" text-anchor="end" textLength="34.2" lengthAdjust="spacingAndGlyphs" fill="#333" stroke="#333" stroke-width="0.18">Zinc finger, PHD-type</text>
<rect x="162.9" y="241.35" width="10.2" height="2.5" fill="#6a5f52"/>
<text x="159.9" y="249.79999999999998" font-size="3.7" text-anchor="end" textLength="89.9" lengthAdjust="spacingAndGlyphs" fill="#333" stroke="#333" stroke-width="0.18">Homeobox protein, antennapedia type, conserved site</text>
<rect x="162.9" y="247.30" width="5.2" height="2.5" fill="#6a5f52"/>
<text x="159.9" y="260.55" font-size="3.7" text-anchor="end" textLength="40.9" lengthAdjust="spacingAndGlyphs" font-weight="bold" fill="#168a4e" stroke="#168a4e" stroke-width="0.18">Inflammatory response</text>
<rect x="162.9" y="258.05" width="32.2" height="2.5" fill="#0c6238"/>
<text x="159.9" y="266.66" font-size="3.7" text-anchor="end" textLength="35.9" lengthAdjust="spacingAndGlyphs" fill="#333" stroke="#333" stroke-width="0.18">acute phase response</text>
<rect x="162.9" y="264.16" width="5.9" height="2.5" fill="#6a5f52"/>
<text x="159.9" y="272.77000000000004" font-size="3.7" text-anchor="end" textLength="66.0" lengthAdjust="spacingAndGlyphs" fill="#333" stroke="#333" stroke-width="0.18">positive regulation of T cell proliferation</text>
<rect x="162.9" y="270.27" width="5.9" height="2.5" fill="#6a5f52"/>
<text x="159.9" y="278.88" font-size="3.7" text-anchor="end" textLength="44.7" lengthAdjust="spacingAndGlyphs" fill="#333" stroke="#333" stroke-width="0.18">humoral immune response</text>
<rect x="162.9" y="276.38" width="10.2" height="2.5" fill="#6a5f52"/>
<text x="159.9" y="284.99" font-size="3.7" text-anchor="end" textLength="29.1" lengthAdjust="spacingAndGlyphs" fill="#333" stroke="#333" stroke-width="0.18">B cell homeostasis</text>
<rect x="162.9" y="282.49" width="2.2" height="2.5" fill="#6a5f52"/>
<text x="159.9" y="291.1" font-size="3.7" text-anchor="end" textLength="49.7" lengthAdjust="spacingAndGlyphs" fill="#333" stroke="#333" stroke-width="0.18">response to cytokine stimulus</text>
<rect x="162.9" y="288.60" width="10.2" height="2.5" fill="#6a5f52"/>
<text x="159.9" y="297.21000000000004" font-size="3.7" text-anchor="end" textLength="70.3" lengthAdjust="spacingAndGlyphs" fill="#333" stroke="#333" stroke-width="0.18">regulation of cytokine biosynthetic process</text>
<rect x="162.9" y="294.71" width="8.2" height="2.5" fill="#6a5f52"/>
<text x="159.9" y="303.32" font-size="3.7" text-anchor="end" textLength="62.8" lengthAdjust="spacingAndGlyphs" fill="#333" stroke="#333" stroke-width="0.18">regulation of interleukin-6 production</text>
<rect x="162.9" y="300.82" width="6.2" height="2.5" fill="#6a5f52"/>
<text x="159.9" y="309.43" font-size="3.7" text-anchor="end" textLength="34.7" lengthAdjust="spacingAndGlyphs" fill="#333" stroke="#333" stroke-width="0.18">host-virus interaction</text>
<rect x="162.9" y="306.93" width="25.2" height="2.5" fill="#6a5f52"/>
<text x="159.9" y="315.54" font-size="3.7" text-anchor="end" textLength="52.2" lengthAdjust="spacingAndGlyphs" fill="#333" stroke="#333" stroke-width="0.18">Cytosolic DNA-sensing pathway</text>
<rect x="162.9" y="313.04" width="7.2" height="2.5" fill="#6a5f52"/>
<rect x="68.6" y="134.6" width="0.6" height="87.4" fill="#8a8a8a"/>
<rect x="68.6" y="225.9" width="0.6" height="24.5" fill="#8a8a8a"/>
<rect x="68.6" y="259.2" width="0.6" height="55.6" fill="#8a8a8a"/>
<text x="66.4" y="175.6" font-size="5.2" text-anchor="end" textLength="65.6" lengthAdjust="spacingAndGlyphs" font-weight="bold" fill="#168a4e" stroke="#168a4e" stroke-width="0.2">cell surface receptor-linked</text>
<text x="66.4" y="183.4" font-size="5.2" text-anchor="end" textLength="46.6" lengthAdjust="spacingAndGlyphs" font-weight="bold" fill="#168a4e" stroke="#168a4e" stroke-width="0.2">signal transduction</text>
<text x="66.2" y="238.1" font-size="5.2" text-anchor="end" textLength="32.2" lengthAdjust="spacingAndGlyphs" font-weight="bold" fill="#168a4e" stroke="#168a4e" stroke-width="0.2">Transcription</text>
<text x="66.2" y="287.8" font-size="5.2" text-anchor="end" textLength="42.2" lengthAdjust="spacingAndGlyphs" font-weight="bold" fill="#168a4e" stroke="#168a4e" stroke-width="0.2">Defense response</text>
<g id="net">
<polygon points="284,156 300,142 314,142 340,152 362,160 388,166 410,178 428,196 436,222 438,276 430,292 418,304 400,310 330,314 292,310 274,296 272,232 280,180" fill="#a9caee" opacity="0.85" stroke="#a9caee" stroke-width="3" stroke-linejoin="round"/>
<polygon points="302,139 312,139 312,149 333,151 333,158 345,158 357,157 357,164 366,165 366,172 346,174 346,186 336,188 336,197 327,197 327,206 318,207 318,216 299,216 299,229 279,229 279,176 281,157 291,152 302,152" fill="#6abd92" stroke="#6abd92" stroke-width="4" stroke-linejoin="round"/>
<polygon points="366,163 376,163 376,172 387,174 387,193 399,193 399,204 378,206 378,213 367,213 367,203 346,196 346,174 366,172" fill="#62b0cf" stroke="#62b0cf" stroke-width="4" stroke-linejoin="round"/>
<polygon points="347,234 376,234 376,272 347,272" fill="#b585cd" stroke="#b585cd" stroke-width="4" stroke-linejoin="round"/>
<polygon points="349,272 378,272 378,281 388,281 388,300 378,300 378,308 349,308" fill="#d2dd8a" stroke="#d2dd8a" stroke-width="4" stroke-linejoin="round"/>
<polygon points="337,188 346,196 367,203 367,213 376,213 376,233 347,234 347,272 349,272 349,307 320,307 320,268 298,268 298,229 299,216 318,216 318,207 327,206 327,197 336,197" fill="#d3ad8b" stroke="#d3ad8b" stroke-width="4" stroke-linejoin="round"/>
<polygon points="378,205 426,205 426,214 436,214 436,277 426,278 426,301 416,301 416,309 388,309 388,281 378,281 378,272 376,272 376,213 378,213" fill="#99ae82" stroke="#99ae82" stroke-width="4" stroke-linejoin="round"/>
<path d="M264.8,180.4L264.9,188.5M264.8,180.4L274.5,172.9M264.8,180.4L274.0,182.0M264.8,180.4L274.1,191.3M264.9,188.5L265.3,198.4M264.9,188.5L274.0,182.0M264.9,188.5L274.1,191.3M264.9,188.5L253.9,198.9M265.3,198.4L264.9,206.7M265.3,198.4L274.1,191.3M265.3,198.4L274.0,201.0M265.3,198.4L274.9,208.8M265.3,198.4L253.9,198.9M264.9,206.7L265.5,216.3M264.9,206.7L274.0,201.0M264.9,206.7L274.9,208.8M264.9,206.7L274.4,218.1M264.9,206.7L253.9,198.9M265.5,216.3L265.9,225.3M265.5,216.3L274.9,208.8M265.5,216.3L274.4,218.1M265.5,216.3L274.5,226.7M265.9,225.3L274.4,218.1M265.9,225.3L274.5,226.7M265.9,225.3L275.2,237.0M274.1,155.0L284.4,144.5M274.1,155.0L284.4,153.2M274.1,155.0L284.4,162.0M274.1,155.0L275.7,163.0M274.5,172.9L274.0,182.0M274.5,172.9L284.4,162.0M274.5,172.9L283.6,170.6M274.5,172.9L283.7,178.8M274.5,172.9L275.7,163.0M274.0,182.0L274.1,191.3M274.0,182.0L283.6,170.6M274.0,182.0L283.7,178.8M274.0,182.0L283.3,188.1M274.1,191.3L274.0,201.0M274.1,191.3L283.3,188.1M274.1,191.3L283.6,197.7M274.0,201.0L274.9,208.8M274.0,201.0L283.6,197.7M274.0,201.0L284.6,206.3M274.9,208.8L274.4,218.1M274.9,208.8L283.6,197.7M274.9,208.8L284.6,206.3M274.9,208.8L284.6,216.1M274.4,218.1L274.5,226.7M274.4,218.1L284.6,216.1M274.4,218.1L284.6,224.1M274.5,226.7L275.2,237.0M274.5,226.7L284.6,216.1M274.5,226.7L284.6,224.1M274.5,226.7L283.6,232.8M275.2,237.0L274.7,245.2M275.2,237.0L283.6,232.8M275.2,237.0L283.5,241.7M274.7,245.2L274.1,253.5M274.7,245.2L283.6,232.8M274.7,245.2L283.5,241.7M274.7,245.2L284.1,251.8M274.1,253.5L274.5,262.7M274.1,253.5L283.5,241.7M274.1,253.5L284.1,251.8M274.1,253.5L284.4,260.0M274.5,262.7L275.2,271.5M274.5,262.7L284.1,251.8M274.5,262.7L284.4,260.0M274.5,262.7L284.2,269.5M275.2,271.5L274.0,281.7M275.2,271.5L284.4,260.0M275.2,271.5L284.2,269.5M275.2,271.5L283.4,278.2M274.0,281.7L283.4,278.2M274.0,281.7L284.5,287.4M274.0,281.7L273.9,288.9M274.8,298.1L284.5,287.4M274.8,298.1L284.3,295.8M274.8,298.1L283.5,305.3M274.8,298.1L273.9,288.9M284.4,144.5L284.4,153.2M284.4,144.5L292.7,136.6M284.4,144.5L293.8,146.6M284.4,144.5L292.7,155.6M284.4,153.2L284.4,162.0M284.4,153.2L293.8,146.6M284.4,153.2L292.7,155.6M284.4,153.2L293.9,164.3M284.4,153.2L275.7,163.0M284.4,162.0L283.6,170.6M284.4,162.0L292.7,155.6M284.4,162.0L293.9,164.3M284.4,162.0L293.0,173.1M284.4,162.0L275.7,163.0M283.6,170.6L283.7,178.8M283.6,170.6L293.9,164.3M283.6,170.6L293.0,173.1M283.6,170.6L292.7,181.2M283.6,170.6L275.7,163.0M283.7,178.8L283.3,188.1M283.7,178.8L293.0,173.1M283.7,178.8L292.7,181.2M283.3,188.1L283.6,197.7M283.3,188.1L292.7,181.2M283.3,188.1L293.9,191.1M283.6,197.7L284.6,206.3M283.6,197.7L293.9,191.1M283.6,197.7L293.2,200.5M283.6,197.7L293.1,209.4M284.6,206.3L284.6,216.1M284.6,206.3L293.2,200.5M284.6,206.3L293.1,209.4M284.6,206.3L293.7,217.3M284.6,216.1L284.6,224.1M284.6,216.1L293.1,209.4M284.6,216.1L293.7,217.3M284.6,216.1L292.9,226.4M284.6,224.1L283.6,232.8M284.6,224.1L293.7,217.3M284.6,224.1L292.9,226.4M284.6,224.1L292.8,235.8M283.6,232.8L283.5,241.7M283.6,232.8L292.9,226.4M283.6,232.8L292.8,235.8M283.6,232.8L292.9,244.5M283.5,241.7L284.1,251.8M283.5,241.7L292.8,235.8M283.5,241.7L292.9,244.5M283.5,241.7L292.7,254.2M284.1,251.8L284.4,260.0M284.1,251.8L292.9,244.5M284.1,251.8L292.7,254.2M284.1,251.8L293.0,262.4M284.4,260.0L284.2,269.5M284.4,260.0L292.7,254.2M284.4,260.0L293.0,262.4M284.4,260.0L293.3,272.1M284.2,269.5L283.4,278.2M284.2,269.5L293.0,262.4M284.2,269.5L293.3,272.1M284.2,269.5L293.1,281.1M283.4,278.2L284.5,287.4M283.4,278.2L293.3,272.1M283.4,278.2L293.1,281.1M283.4,278.2L293.2,289.4M283.4,278.2L273.9,288.9M284.5,287.4L284.3,295.8M284.5,287.4L293.1,281.1M284.5,287.4L293.2,289.4M284.5,287.4L293.2,297.5M284.5,287.4L273.9,288.9M284.3,295.8L283.5,305.3M284.3,295.8L293.2,289.4M284.3,295.8L293.2,297.5M284.3,295.8L293.1,306.7M284.3,295.8L273.9,288.9M283.5,305.3L283.7,314.3M283.5,305.3L293.2,297.5M283.5,305.3L293.1,306.7M283.5,305.3L292.5,316.7M283.7,314.3L293.1,306.7M283.7,314.3L292.5,316.7M292.7,136.6L293.8,146.6M292.7,136.6L302.5,136.8M292.7,136.6L301.9,145.3M293.8,146.6L292.7,155.6M293.8,146.6L302.5,136.8M293.8,146.6L301.9,145.3M293.8,146.6L302.1,153.8M292.7,155.6L293.9,164.3M292.7,155.6L301.9,145.3M292.7,155.6L302.1,153.8M292.7,155.6L302.8,163.2M293.9,164.3L293.0,173.1M293.9,164.3L302.1,153.8M293.9,164.3L302.8,163.2M293.9,164.3L302.5,172.5M293.0,173.1L292.7,181.2M293.0,173.1L302.8,163.2M293.0,173.1L302.5,172.5M293.0,173.1L303.0,181.0M292.7,181.2L293.9,191.1M292.7,181.2L302.5,172.5M292.7,181.2L303.0,181.0M292.7,181.2L302.6,190.0M293.9,191.1L293.2,200.5M293.9,191.1L303.0,181.0M293.9,191.1L302.6,190.0M293.9,191.1L302.5,199.3M293.2,200.5L293.1,209.4M293.2,200.5L302.6,190.0M293.2,200.5L302.5,199.3M293.2,200.5L302.4,208.0M293.1,209.4L293.7,217.3M293.1,209.4L302.5,199.3M293.1,209.4L302.4,208.0M293.1,209.4L302.4,217.6M293.7,217.3L292.9,226.4M293.7,217.3L302.4,208.0M293.7,217.3L302.4,217.6M293.7,217.3L302.3,228.3M292.9,226.4L292.8,235.8M292.9,226.4L302.4,217.6M292.9,226.4L303.1,234.4M292.9,226.4L302.3,228.3M292.8,235.8L292.9,244.5M292.8,235.8L303.1,234.4M292.8,235.8L302.5,244.4M292.8,235.8L302.3,228.3M292.9,244.5L292.7,254.2M292.9,244.5L303.1,234.4M292.9,244.5L302.5,244.4M292.9,244.5L302.9,252.1M292.7,254.2L293.0,262.4M292.7,254.2L302.5,244.4M292.7,254.2L302.9,252.1M292.7,254.2L301.9,261.5M293.0,262.4L293.3,272.1M293.0,262.4L302.9,252.1M293.0,262.4L301.9,261.5M293.0,262.4L301.9,270.1M293.3,272.1L293.1,281.1M293.3,272.1L301.9,261.5M293.3,272.1L301.9,270.1M293.3,272.1L301.9,279.8M293.1,281.1L293.2,289.4M293.1,281.1L301.9,270.1M293.1,281.1L301.9,279.8M293.1,281.1L302.8,289.1M293.2,289.4L293.2,297.5M293.2,289.4L301.9,279.8M293.2,289.4L302.8,289.1M293.2,289.4L302.0,297.7M293.2,297.5L293.1,306.7M293.2,297.5L302.8,289.1M293.2,297.5L302.0,297.7M293.2,297.5L302.7,305.8M293.1,306.7L292.5,316.7M293.1,306.7L302.0,297.7M293.1,306.7L302.7,305.8M293.1,306.7L303.0,316.0M292.5,316.7L302.7,305.8M292.5,316.7L303.0,316.0M302.5,136.8L301.9,145.3M302.5,136.8L311.2,134.6M302.5,136.8L311.7,143.4M301.9,145.3L302.1,153.8M301.9,145.3L311.2,134.6M301.9,145.3L311.7,143.4M301.9,145.3L311.3,152.3M302.1,153.8L302.8,163.2M302.1,153.8L311.7,143.4M302.1,153.8L311.3,152.3M302.1,153.8L312.0,160.8M302.8,163.2L302.5,172.5M302.8,163.2L311.3,152.3M302.8,163.2L312.0,160.8M302.8,163.2L311.8,170.4M302.5,172.5L303.0,181.0M302.5,172.5L312.0,160.8M302.5,172.5L311.8,170.4M302.5,172.5L311.0,179.2M303.0,181.0L302.6,190.0M303.0,181.0L311.8,170.4M303.0,181.0L311.0,179.2M303.0,181.0L311.9,188.4M302.6,190.0L302.5,199.3M302.6,190.0L311.0,179.2M302.6,190.0L311.9,188.4M302.6,190.0L311.1,198.1M302.5,199.3L302.4,208.0M302.5,199.3L311.9,188.4M302.5,199.3L311.1,198.1M302.5,199.3L312.1,207.1M302.4,208.0L302.4,217.6M302.4,208.0L311.1,198.1M302.4,208.0L312.1,207.1M302.4,208.0L311.1,214.9M302.4,217.6L312.1,207.1M302.4,217.6L311.1,214.9M302.4,217.6L311.1,224.6M302.4,217.6L302.3,228.3M303.1,234.4L302.5,244.4M303.1,234.4L311.1,224.6M303.1,234.4L311.4,232.6M303.1,234.4L311.6,242.8M303.1,234.4L302.3,228.3M302.5,244.4L302.9,252.1M302.5,244.4L311.4,232.6M302.5,244.4L311.6,242.8M302.5,244.4L312.1,250.7M302.9,252.1L301.9,261.5M302.9,252.1L311.6,242.8M302.9,252.1L312.1,250.7M302.9,252.1L311.2,260.7M301.9,261.5L301.9,270.1M301.9,261.5L312.1,250.7M301.9,261.5L311.2,260.7M301.9,261.5L311.8,269.3M301.9,270.1L301.9,279.8M301.9,270.1L311.2,260.7M301.9,270.1L311.8,269.3M301.9,270.1L311.1,277.2M301.9,279.8L302.8,289.1M301.9,279.8L311.8,269.3M301.9,279.8L311.1,277.2M301.9,279.8L312.0,286.7M302.8,289.1L302.0,297.7M302.8,289.1L311.1,277.2M302.8,289.1L312.0,286.7M302.8,289.1L311.1,296.5M302.0,297.7L302.7,305.8M302.0,297.7L312.0,286.7M302.0,297.7L311.1,296.5M302.0,297.7L311.9,305.2M302.7,305.8L303.0,316.0M302.7,305.8L311.1,296.5M302.7,305.8L311.9,305.2M302.7,305.8L311.1,314.3M303.0,316.0L311.9,305.2M303.0,316.0L311.1,314.3M311.2,134.6L311.7,143.4M311.2,134.6L320.6,136.4M311.2,134.6L321.0,145.6M311.7,143.4L311.3,152.3M311.7,143.4L320.6,136.4M311.7,143.4L321.0,145.6M311.7,143.4L320.4,154.4M311.7,143.4L326.9,145.6M311.3,152.3L312.0,160.8M311.3,152.3L321.0,145.6M311.3,152.3L320.4,154.4M311.3,152.3L320.3,163.4M312.0,160.8L311.8,170.4M312.0,160.8L320.4,154.4M312.0,160.8L320.3,163.4M312.0,160.8L320.7,172.5M311.8,170.4L311.0,179.2M311.8,170.4L320.3,163.4M311.8,170.4L320.7,172.5M311.8,170.4L321.3,181.5M311.0,179.2L311.9,188.4M311.0,179.2L320.7,172.5M311.0,179.2L321.3,181.5M311.0,179.2L321.0,190.2M311.9,188.4L311.1,198.1M311.9,188.4L321.3,181.5M311.9,188.4L321.0,190.2M311.1,198.1L312.1,207.1M311.1,198.1L321.0,190.2M311.1,198.1L320.6,207.9M311.1,198.1L322.5,201.6M312.1,207.1L311.1,214.9M312.1,207.1L320.6,207.9M312.1,207.1L321.3,217.7M312.1,207.1L322.5,201.6M311.1,214.9L311.1,224.6M311.1,214.9L320.6,207.9M311.1,214.9L321.3,217.7M311.1,214.9L320.5,226.5M311.1,224.6L311.4,232.6M311.1,224.6L321.3,217.7M311.1,224.6L320.5,226.5M311.1,224.6L302.3,228.3M311.4,232.6L311.6,242.8M311.4,232.6L320.5,226.5M311.4,232.6L321.4,244.3M311.4,232.6L321.6,237.4M311.4,232.6L302.3,228.3M311.6,242.8L312.1,250.7M311.6,242.8L321.4,244.3M311.6,242.8L320.9,253.9M311.6,242.8L321.6,237.4M312.1,250.7L311.2,260.7M312.1,250.7L321.4,244.3M312.1,250.7L320.9,253.9M312.1,250.7L320.8,262.3M311.2,260.7L311.8,269.3M311.2,260.7L320.9,253.9M311.2,260.7L320.8,262.3M311.2,260.7L321.2,272.1M311.8,269.3L311.1,277.2M311.8,269.3L320.8,262.3M311.8,269.3L321.2,272.1M311.8,269.3L320.7,280.8M311.1,277.2L312.0,286.7M311.1,277.2L321.2,272.1M311.1,277.2L320.7,280.8M312.0,286.7L311.1,296.5M312.0,286.7L320.7,280.8M312.0,286.7L321.2,289.4M312.0,286.7L321.5,297.7M311.1,296.5L311.9,305.2M311.1,296.5L321.2,289.4M311.1,296.5L320.3,306.5M311.1,296.5L321.5,297.7M311.9,305.2L311.1,314.3M311.9,305.2L320.3,306.5M311.9,305.2L320.3,316.4M311.9,305.2L321.5,297.7M311.1,314.3L320.3,306.5M311.1,314.3L320.3,316.4M320.6,136.4L321.0,145.6M320.6,136.4L326.9,145.6M321.0,145.6L320.4,154.4M321.0,145.6L329.7,152.4M321.0,145.6L326.9,145.6M320.4,154.4L320.3,163.4M320.4,154.4L329.7,152.4M320.4,154.4L329.9,162.2M320.4,154.4L326.9,145.6M320.3,163.4L320.7,172.5M320.3,163.4L329.7,152.4M320.3,163.4L329.9,162.2M320.3,163.4L330.9,170.5M320.7,172.5L321.3,181.5M320.7,172.5L329.9,162.2M320.7,172.5L330.9,170.5M320.7,172.5L329.8,180.1M321.3,181.5L321.0,190.2M321.3,181.5L330.9,170.5M321.3,181.5L329.8,180.1M321.3,181.5L329.9,188.1M321.0,190.2L329.8,180.1M321.0,190.2L329.9,188.1M321.0,190.2L329.5,197.1M321.0,190.2L322.5,201.6M320.6,207.9L321.3,217.7M320.6,207.9L329.5,197.1M320.6,207.9L330.2,206.2M320.6,207.9L329.8,215.2M320.6,207.9L322.5,201.6M321.3,217.7L320.5,226.5M321.3,217.7L330.2,206.2M321.3,217.7L329.8,215.2M321.3,217.7L329.5,223.7M320.5,226.5L329.8,215.2M320.5,226.5L329.5,223.7M320.5,226.5L329.6,232.9M320.5,226.5L321.6,237.4M321.4,244.3L320.9,253.9M321.4,244.3L329.6,232.9M321.4,244.3L329.6,241.2M321.4,244.3L329.9,250.5M321.4,244.3L321.6,237.4M320.9,253.9L320.8,262.3M320.9,253.9L329.6,241.2M320.9,253.9L329.9,250.5M320.9,253.9L330.3,259.9M320.8,262.3L321.2,272.1M320.8,262.3L329.9,250.5M320.8,262.3L330.3,259.9M320.8,262.3L330.6,269.1M321.2,272.1L320.7,280.8M321.2,272.1L330.3,259.9M321.2,272.1L330.6,269.1M321.2,272.1L330.5,278.4M320.7,280.8L321.2,289.4M320.7,280.8L330.6,269.1M320.7,280.8L330.5,278.4M320.7,280.8L330.0,286.5M321.2,289.4L330.5,278.4M321.2,289.4L330.0,286.5M321.2,289.4L331.4,299.5M321.2,289.4L321.5,297.7M320.3,306.5L320.3,316.4M320.3,306.5L330.5,304.9M320.3,306.5L329.6,314.1M320.3,306.5L331.4,299.5M320.3,306.5L321.5,297.7M320.3,316.4L330.5,304.9M320.3,316.4L329.6,314.1M320.3,316.4L330.7,322.7M329.7,152.4L329.9,162.2M329.7,152.4L339.9,146.1M329.7,152.4L339.6,155.2M329.7,152.4L339.7,163.8M329.7,152.4L326.9,145.6M329.9,162.2L330.9,170.5M329.9,162.2L339.6,155.2M329.9,162.2L339.7,163.8M329.9,162.2L339.1,171.7M330.9,170.5L329.8,180.1M330.9,170.5L339.7,163.8M330.9,170.5L339.1,171.7M330.9,170.5L340.8,182.3M329.8,180.1L329.9,188.1M329.8,180.1L339.1,171.7M329.8,180.1L338.9,190.9M329.8,180.1L340.8,182.3M329.9,188.1L329.5,197.1M329.9,188.1L338.9,190.9M329.9,188.1L339.5,199.5M329.9,188.1L322.5,201.6M329.9,188.1L340.8,182.3M329.5,197.1L330.2,206.2M329.5,197.1L338.9,190.9M329.5,197.1L339.5,199.5M329.5,197.1L339.6,208.5M329.5,197.1L322.5,201.6M330.2,206.2L329.8,215.2M330.2,206.2L339.5,199.5M330.2,206.2L339.6,208.5M330.2,206.2L339.4,216.4M330.2,206.2L322.5,201.6M329.8,215.2L329.5,223.7M329.8,215.2L339.6,208.5M329.8,215.2L339.4,216.4M329.8,215.2L339.9,226.6M329.8,215.2L322.5,201.6M329.5,223.7L329.6,232.9M329.5,223.7L339.4,216.4M329.5,223.7L339.9,226.6M329.5,223.7L339.5,235.2M329.6,232.9L329.6,241.2M329.6,232.9L339.9,226.6M329.6,232.9L339.5,235.2M329.6,232.9L339.7,243.4M329.6,232.9L321.6,237.4M329.6,241.2L329.9,250.5M329.6,241.2L339.5,235.2M329.6,241.2L339.7,243.4M329.6,241.2L339.8,252.6M329.6,241.2L321.6,237.4M329.9,250.5L330.3,259.9M329.9,250.5L339.7,243.4M329.9,250.5L339.8,252.6M329.9,250.5L338.9,261.6M330.3,259.9L330.6,269.1M330.3,259.9L339.8,252.6M330.3,259.9L338.9,261.6M330.3,259.9L339.8,270.4M330.6,269.1L330.5,278.4M330.6,269.1L338.9,261.6M330.6,269.1L339.8,270.4M330.5,278.4L330.0,286.5M330.5,278.4L339.8,270.4M330.5,278.4L339.4,288.6M330.5,278.4L342.7,280.6M330.0,286.5L339.4,288.6M330.0,286.5L339.4,298.0M330.0,286.5L342.7,280.6M330.0,286.5L331.4,299.5M330.0,286.5L321.5,297.7M330.5,304.9L329.6,314.1M330.5,304.9L339.4,298.0M330.5,304.9L339.8,306.9M330.5,304.9L339.6,315.0M330.5,304.9L331.4,299.5M330.5,304.9L321.5,297.7M329.6,314.1L330.7,322.7M329.6,314.1L339.8,306.9M329.6,314.1L339.6,315.0M329.6,314.1L331.4,299.5M330.7,322.7L339.6,315.0M339.9,146.1L339.6,155.2M339.9,146.1L348.9,152.3M339.9,146.1L326.9,145.6M339.6,155.2L339.7,163.8M339.6,155.2L348.9,152.3M339.6,155.2L348.7,161.6M339.7,163.8L339.1,171.7M339.7,163.8L348.9,152.3M339.7,163.8L348.7,161.6M339.7,163.8L348.7,170.0M339.1,171.7L348.7,161.6M339.1,171.7L348.7,170.0M339.1,171.7L349.3,179.0M339.1,171.7L340.8,182.3M338.9,190.9L339.5,199.5M338.9,190.9L349.4,189.2M338.9,190.9L350.5,198.0M338.9,190.9L340.8,182.3M339.5,199.5L339.6,208.5M339.5,199.5L349.4,189.2M339.5,199.5L350.5,198.0M339.5,199.5L351.4,209.0M339.6,208.5L339.4,216.4M339.6,208.5L350.5,198.0M339.6,208.5L351.4,209.0M339.4,216.4L339.9,226.6M339.4,216.4L348.3,225.0M339.4,216.4L351.4,209.0M339.4,216.4L352.0,219.5M339.9,226.6L339.5,235.2M339.9,226.6L348.3,225.0M339.9,226.6L348.3,233.3M339.9,226.6L352.0,219.5M339.5,235.2L339.7,243.4M339.5,235.2L348.3,225.0M339.5,235.2L348.3,233.3M339.5,235.2L348.2,242.2M339.7,243.4L339.8,252.6M339.7,243.4L348.3,233.3M339.7,243.4L348.2,242.2M339.7,243.4L351.4,249.4M339.8,252.6L338.9,261.6M339.8,252.6L348.2,242.2M339.8,252.6L349.1,260.1M339.8,252.6L351.4,249.4M338.9,261.6L339.8,270.4M338.9,261.6L349.1,260.1M338.9,261.6L349.2,269.3M339.8,270.4L349.1,260.1M339.8,270.4L349.2,269.3M339.8,270.4L348.3,278.6M339.8,270.4L342.7,280.6M339.4,288.6L339.4,298.0M339.4,288.6L348.3,278.6M339.4,288.6L348.7,286.2M339.4,288.6L348.0,295.8M339.4,288.6L342.7,280.6M339.4,288.6L331.4,299.5M339.4,298.0L339.8,306.9M339.4,298.0L348.7,286.2M339.4,298.0L348.0,295.8M339.4,298.0L348.6,304.5M339.4,298.0L331.4,299.5M339.8,306.9L339.6,315.0M339.8,306.9L348.0,295.8M339.8,306.9L348.6,304.5M339.8,306.9L348.2,313.5M339.8,306.9L331.4,299.5M339.6,315.0L348.6,304.5M339.6,315.0L348.2,313.5M348.9,152.3L348.7,161.6M348.9,152.3L357.8,152.6M348.9,152.3L358.6,161.9M348.7,161.6L348.7,170.0M348.7,161.6L357.8,152.6M348.7,161.6L358.6,161.9M348.7,161.6L357.8,170.6M348.7,170.0L349.3,179.0M348.7,170.0L358.6,161.9M348.7,170.0L357.8,170.6M348.7,170.0L361.5,177.7M348.7,170.0L340.8,182.3M349.3,179.0L349.4,189.2M349.3,179.0L357.8,170.6M349.3,179.0L357.4,189.1M349.3,179.0L361.5,177.7M349.3,179.0L340.8,182.3M349.4,189.2L357.4,189.1M349.4,189.2L357.6,198.2M349.4,189.2L350.5,198.0M349.4,189.2L340.8,182.3M348.3,225.0L348.3,233.3M348.3,225.0L358.0,214.9M348.3,225.0L358.5,233.8M348.3,225.0L352.0,219.5M348.3,225.0L361.5,222.0M348.3,233.3L348.2,242.2M348.3,233.3L358.5,233.8M348.3,233.3L358.1,242.9M348.3,233.3L352.0,219.5M348.2,242.2L358.5,233.8M348.2,242.2L358.1,242.9M348.2,242.2L358.6,251.3M348.2,242.2L351.4,249.4M349.1,260.1L349.2,269.3M349.1,260.1L358.6,251.3M349.1,260.1L358.3,259.5M349.1,260.1L358.3,269.0M349.1,260.1L351.4,249.4M349.2,269.3L348.3,278.6M349.2,269.3L358.3,259.5M349.2,269.3L358.3,269.0M349.2,269.3L358.3,278.3M349.2,269.3L342.7,280.6M348.3,278.6L348.7,286.2M348.3,278.6L358.3,269.0M348.3,278.6L358.3,278.3M348.3,278.6L357.7,286.3M348.3,278.6L342.7,280.6M348.7,286.2L348.0,295.8M348.7,286.2L358.3,278.3M348.7,286.2L357.7,286.3M348.7,286.2L358.5,295.4M348.7,286.2L342.7,280.6M348.0,295.8L348.6,304.5M348.0,295.8L357.7,286.3M348.0,295.8L358.5,295.4M348.0,295.8L357.9,304.7M348.6,304.5L348.2,313.5M348.6,304.5L358.5,295.4M348.6,304.5L357.9,304.7M348.6,304.5L357.7,314.3M348.2,313.5L357.9,304.7M348.2,313.5L357.7,314.3M348.2,313.5L358.6,322.4M357.8,152.6L358.6,161.9M357.8,152.6L367.8,164.3M358.6,161.9L357.8,170.6M358.6,161.9L367.8,164.3M358.6,161.9L367.1,171.8M357.8,170.6L367.8,164.3M357.8,170.6L367.1,171.8M357.8,170.6L371.6,177.4M357.8,170.6L361.5,177.7M357.4,189.1L357.6,198.2M357.4,189.1L366.8,198.9M357.4,189.1L350.5,198.0M357.4,189.1L361.5,177.7M357.4,189.1L369.8,187.5M357.6,198.2L357.6,206.1M357.6,198.2L366.8,198.9M357.6,198.2L350.5,198.0M357.6,198.2L351.4,209.0M357.6,198.2L362.4,208.2M357.6,198.2L372.5,197.4M357.6,206.1L358.0,214.9M357.6,206.1L366.8,198.9M357.6,206.1L350.5,198.0M357.6,206.1L351.4,209.0M357.6,206.1L362.4,208.2M357.6,206.1L352.0,219.5M357.6,206.1L372.5,208.2M358.0,214.9L367.1,226.1M358.0,214.9L351.4,209.0M358.0,214.9L362.4,208.2M358.0,214.9L370.7,218.0M358.0,214.9L352.0,219.5M358.0,214.9L361.5,222.0M358.5,233.8L358.1,242.9M358.5,233.8L367.1,226.1M358.5,233.8L367.0,234.8M358.5,233.8L366.6,243.7M358.5,233.8L361.5,222.0M358.1,242.9L358.6,251.3M358.1,242.9L367.0,234.8M358.1,242.9L366.6,243.7M358.1,242.9L367.9,252.4M358.1,242.9L351.4,249.4M358.6,251.3L358.3,259.5M358.6,251.3L366.6,243.7M358.6,251.3L367.9,252.4M358.6,251.3L351.4,249.4M358.3,259.5L358.3,269.0M358.3,259.5L367.9,252.4M358.3,259.5L367.7,270.4M358.3,259.5L370.7,265.0M358.3,259.5L351.4,249.4M358.3,269.0L358.3,278.3M358.3,269.0L367.7,270.4M358.3,269.0L366.9,279.4M358.3,269.0L370.7,265.0M358.3,278.3L357.7,286.3M358.3,278.3L367.7,270.4M358.3,278.3L366.9,279.4M358.3,278.3L367.1,288.7M357.7,286.3L358.5,295.4M357.7,286.3L366.9,279.4M357.7,286.3L367.1,288.7M358.5,295.4L357.9,304.7M358.5,295.4L367.1,288.7M358.5,295.4L367.8,298.3M358.5,295.4L367.7,305.9M357.9,304.7L357.7,314.3M357.9,304.7L367.8,298.3M357.9,304.7L367.7,305.9M357.9,304.7L366.5,315.9M357.7,314.3L358.6,322.4M357.7,314.3L367.7,305.9M357.7,314.3L366.5,315.9M358.6,322.4L366.5,315.9M367.8,164.3L367.1,171.8M367.8,164.3L375.9,156.0M367.8,164.3L376.5,165.8M367.8,164.3L377.1,174.9M367.8,164.3L371.6,177.4M367.8,164.3L361.5,177.7M367.1,171.8L376.5,165.8M367.1,171.8L377.1,174.9M367.1,171.8L376.7,183.9M367.1,171.8L371.6,177.4M367.1,171.8L361.5,177.7M366.8,198.9L376.4,192.5M366.8,198.9L362.4,208.2M366.8,198.9L369.8,187.5M366.8,198.9L372.5,197.4M366.8,198.9L372.5,208.2M367.1,226.1L367.0,234.8M367.1,226.1L376.7,218.9M367.1,226.1L375.9,227.8M367.1,226.1L370.7,218.0M367.1,226.1L361.5,222.0M367.1,226.1L380.8,225.4M367.0,234.8L366.6,243.7M367.0,234.8L375.9,227.8M367.0,234.8L375.9,245.4M367.0,234.8L361.5,222.0M367.0,234.8L379.0,236.5M366.6,243.7L367.9,252.4M366.6,243.7L375.9,245.4M366.6,243.7L379.0,236.5M367.9,252.4L375.9,245.4M367.9,252.4L376.3,263.6M367.9,252.4L370.7,265.0M367.9,252.4L379.0,254.9M367.7,270.4L366.9,279.4M367.7,270.4L376.3,263.6M367.7,270.4L376.6,272.2M367.7,270.4L376.2,281.8M367.7,270.4L370.7,265.0M366.9,279.4L367.1,288.7M366.9,279.4L376.6,272.2M366.9,279.4L376.2,281.8M366.9,279.4L370.7,265.0M367.1,288.7L367.8,298.3M367.1,288.7L376.2,281.8M367.1,288.7L377.1,291.1M367.1,288.7L377.0,299.8M367.8,298.3L367.7,305.9M367.8,298.3L377.1,291.1M367.8,298.3L377.0,299.8M367.8,298.3L376.1,308.3M367.7,305.9L366.5,315.9M367.7,305.9L377.0,299.8M367.7,305.9L376.1,308.3M367.7,305.9L377.1,318.0M366.5,315.9L376.1,308.3M366.5,315.9L377.1,318.0M375.9,156.0L376.5,165.8M375.9,156.0L386.0,161.4M376.5,165.8L377.1,174.9M376.5,165.8L386.0,161.4M376.5,165.8L386.1,171.2M376.5,165.8L371.6,177.4M377.1,174.9L376.7,183.9M377.1,174.9L386.1,171.2M377.1,174.9L385.7,179.3M377.1,174.9L371.6,177.4M377.1,174.9L369.8,187.5M376.7,183.9L376.4,192.5M376.7,183.9L385.7,179.3M376.7,183.9L371.6,177.4M376.7,183.9L389.0,187.8M376.7,183.9L369.8,187.5M376.7,183.9L372.5,197.4M376.4,192.5L389.0,187.8M376.4,192.5L369.8,187.5M376.4,192.5L372.5,197.4M376.4,192.5L383.5,200.7M376.7,218.9L375.9,227.8M376.7,218.9L385.3,207.1M376.7,218.9L385.4,216.3M376.7,218.9L370.7,218.0M376.7,218.9L361.5,222.0M376.7,218.9L372.5,208.2M376.7,218.9L380.8,225.4M375.9,227.8L385.4,216.3M375.9,227.8L385.3,233.4M375.9,227.8L370.7,218.0M375.9,227.8L380.8,225.4M375.9,227.8L379.0,236.5M375.9,245.4L385.3,233.4M375.9,245.4L385.9,243.2M375.9,245.4L385.2,251.2M375.9,245.4L379.0,236.5M375.9,245.4L379.0,254.9M376.3,263.6L376.6,272.2M376.3,263.6L385.2,251.2M376.3,263.6L385.3,261.1M376.3,263.6L385.2,268.6M376.3,263.6L370.7,265.0M376.3,263.6L379.0,254.9M376.6,272.2L376.2,281.8M376.6,272.2L385.3,261.1M376.6,272.2L385.2,268.6M376.6,272.2L385.1,278.1M376.6,272.2L370.7,265.0M376.2,281.8L377.1,291.1M376.2,281.8L385.1,278.1M376.2,281.8L386.3,287.8M377.1,291.1L377.0,299.8M377.1,291.1L385.1,278.1M377.1,291.1L386.3,287.8M377.1,291.1L386.0,296.9M377.0,299.8L376.1,308.3M377.0,299.8L386.3,287.8M377.0,299.8L386.0,296.9M377.0,299.8L386.3,304.8M376.1,308.3L377.1,318.0M376.1,308.3L386.0,296.9M376.1,308.3L386.3,304.8M376.1,308.3L385.3,314.7M377.1,318.0L385.3,314.7M377.1,318.0L386.0,322.2M386.0,161.4L386.1,171.2M386.0,161.4L394.7,171.9M386.1,171.2L385.7,179.3M386.1,171.2L394.7,171.9M386.1,171.2L393.6,178.6M385.7,179.3L394.7,171.9M385.7,179.3L394.3,189.2M385.7,179.3L371.6,177.4M385.7,179.3L393.6,178.6M385.7,179.3L389.0,187.8M385.3,207.1L385.4,216.3M385.3,207.1L394.5,206.9M385.3,207.1L383.5,200.7M385.3,207.1L393.8,198.0M385.3,207.1L372.5,208.2M385.4,216.3L394.5,206.9M385.4,216.3L370.7,218.0M385.4,216.3L372.5,208.2M385.4,216.3L380.8,225.4M385.4,216.3L399.0,219.0M385.3,233.4L385.9,243.2M385.3,233.4L395.3,233.3M385.3,233.4L380.8,225.4M385.3,233.4L397.3,238.3M385.3,233.4L398.2,227.8M385.3,233.4L379.0,236.5M385.9,243.2L385.2,251.2M385.9,243.2L395.3,233.3M385.9,243.2L395.5,251.5M385.9,243.2L397.3,238.3M385.9,243.2L379.0,236.5M385.9,243.2L379.0,254.9M385.2,251.2L385.3,261.1M385.2,251.2L395.5,251.5M385.2,251.2L395.3,261.5M385.2,251.2L379.0,254.9M385.3,261.1L385.2,268.6M385.3,261.1L395.5,251.5M385.3,261.1L395.3,261.5M385.3,261.1L394.7,269.4M385.3,261.1L370.7,265.0M385.3,261.1L379.0,254.9M385.2,268.6L385.1,278.1M385.2,268.6L395.3,261.5M385.2,268.6L394.7,269.4M385.2,268.6L395.6,278.9M385.2,268.6L370.7,265.0M385.2,268.6L379.0,254.9M385.1,278.1L386.3,287.8M385.1,278.1L394.7,269.4M385.1,278.1L395.6,278.9M385.1,278.1L394.6,288.1M386.3,287.8L386.0,296.9M386.3,287.8L395.6,278.9M386.3,287.8L394.6,288.1M386.3,287.8L394.7,296.3M386.0,296.9L386.3,304.8M386.0,296.9L394.6,288.1M386.0,296.9L394.7,296.3M386.0,296.9L394.3,306.0M386.3,304.8L385.3,314.7M386.3,304.8L394.7,296.3M386.3,304.8L394.3,306.0M386.3,304.8L395.5,314.8M385.3,314.7L386.0,322.2M385.3,314.7L394.3,306.0M385.3,314.7L395.5,314.8M385.3,314.7L395.6,322.7M386.0,322.2L395.5,314.8M386.0,322.2L395.6,322.7M394.7,171.9L404.7,173.9M394.7,171.9L393.6,178.6M394.7,171.9L402.8,181.4M394.3,189.2L403.9,191.1M394.3,189.2L393.6,178.6M394.3,189.2L389.0,187.8M394.3,189.2L393.8,198.0M394.3,189.2L404.6,195.6M394.3,189.2L402.8,181.4M394.5,206.9L403.8,209.7M394.5,206.9L383.5,200.7M394.5,206.9L393.8,198.0M394.5,206.9L404.6,195.6M394.5,206.9L407.4,214.4M394.5,206.9L399.0,219.0M395.3,233.3L397.3,238.3M395.3,233.3L399.0,219.0M395.3,233.3L398.2,227.8M395.3,233.3L407.4,224.5M395.3,233.3L408.3,236.5M395.5,251.5L395.3,261.5M395.5,251.5L404.7,245.8M395.5,251.5L403.6,263.0M395.5,251.5L397.3,238.3M395.5,251.5L406.0,254.0M395.3,261.5L394.7,269.4M395.3,261.5L403.6,263.0M395.3,261.5L404.5,271.8M395.3,261.5L406.0,254.0M394.7,269.4L395.6,278.9M394.7,269.4L403.6,263.0M394.7,269.4L404.5,271.8M394.7,269.4L403.8,280.7M395.6,278.9L394.6,288.1M395.6,278.9L404.5,271.8M395.6,278.9L403.8,280.7M395.6,278.9L404.4,290.1M394.6,288.1L394.7,296.3M394.6,288.1L403.8,280.7M394.6,288.1L404.4,290.1M394.6,288.1L404.5,299.3M394.7,296.3L394.3,306.0M394.7,296.3L404.4,290.1M394.7,296.3L404.5,299.3M394.7,296.3L404.4,307.1M394.3,306.0L395.5,314.8M394.3,306.0L404.5,299.3M394.3,306.0L404.4,307.1M394.3,306.0L404.7,316.3M395.5,314.8L395.6,322.7M395.5,314.8L404.4,307.1M395.5,314.8L404.7,316.3M395.6,322.7L404.7,316.3M404.7,173.9L413.9,175.4M404.7,173.9L414.1,183.4M404.7,173.9L393.6,178.6M404.7,173.9L402.8,181.4M403.9,191.1L414.1,183.4M403.9,191.1L413.4,193.5M403.9,191.1L413.9,202.6M403.9,191.1L389.0,187.8M403.9,191.1L393.8,198.0M403.9,191.1L404.6,195.6M403.9,191.1L402.8,181.4M403.8,209.7L413.9,202.6M403.8,209.7L412.8,210.6M403.8,209.7L412.9,219.4M403.8,209.7L393.8,198.0M403.8,209.7L404.6,195.6M403.8,209.7L407.4,214.4M403.8,209.7L399.0,219.0M403.8,209.7L407.4,224.5M404.7,245.8L414.1,237.6M404.7,245.8L397.3,238.3M404.7,245.8L408.3,236.5M404.7,245.8L414.7,243.0M404.7,245.8L406.0,254.0M403.6,263.0L404.5,271.8M403.6,263.0L414.1,264.0M403.6,263.0L413.6,273.8M403.6,263.0L406.0,254.0M403.6,263.0L417.0,258.0M404.5,271.8L403.8,280.7M404.5,271.8L414.1,264.0M404.5,271.8L413.6,273.8M404.5,271.8L413.1,282.3M403.8,280.7L404.4,290.1M403.8,280.7L413.6,273.8M403.8,280.7L413.1,282.3M403.8,280.7L412.9,291.0M404.4,290.1L404.5,299.3M404.4,290.1L413.1,282.3M404.4,290.1L412.9,291.0M404.4,290.1L413.1,300.6M404.5,299.3L404.4,307.1M404.5,299.3L412.9,291.0M404.5,299.3L413.1,300.6M404.5,299.3L413.7,308.9M404.4,307.1L404.7,316.3M404.4,307.1L413.1,300.6M404.4,307.1L413.7,308.9M404.7,316.3L413.7,308.9M413.9,175.4L414.1,183.4M413.9,175.4L422.4,182.9M413.9,175.4L402.8,181.4M414.1,183.4L413.4,193.5M414.1,183.4L422.4,182.9M414.1,183.4L422.4,191.2M414.1,183.4L404.6,195.6M414.1,183.4L402.8,181.4M413.4,193.5L413.9,202.6M413.4,193.5L422.4,182.9M413.4,193.5L422.4,191.2M413.4,193.5L404.6,195.6M413.4,193.5L419.3,198.8M413.9,202.6L412.8,210.6M413.9,202.6L422.4,191.2M413.9,202.6L404.6,195.6M413.9,202.6L419.3,198.8M413.9,202.6L420.2,209.9M413.9,202.6L407.4,214.4M412.8,210.6L412.9,219.4M412.8,210.6L422.5,217.5M412.8,210.6L419.3,198.8M412.8,210.6L420.2,209.9M412.8,210.6L407.4,214.4M412.8,210.6L407.4,224.5M412.9,219.4L414.1,229.0M412.9,219.4L422.5,217.5M412.9,219.4L420.2,209.9M412.9,219.4L420.2,229.2M412.9,219.4L407.4,214.4M412.9,219.4L399.0,219.0M412.9,219.4L407.4,224.5M414.1,229.0L414.1,237.6M414.1,229.0L422.5,217.5M414.1,229.0L420.2,229.2M414.1,229.0L407.4,224.5M414.1,229.0L408.3,236.5M414.1,229.0L414.7,243.0M414.1,229.0L424.0,240.6M414.1,237.6L422.6,245.3M414.1,237.6L420.2,229.2M414.1,237.6L407.4,224.5M414.1,237.6L408.3,236.5M414.1,237.6L414.7,243.0M414.1,237.6L424.0,240.6M414.1,264.0L413.6,273.8M414.1,264.0L422.6,254.4M414.1,264.0L422.6,262.2M414.1,264.0L422.0,271.7M414.1,264.0L406.0,254.0M414.1,264.0L417.0,258.0M413.6,273.8L413.1,282.3M413.6,273.8L422.6,262.2M413.6,273.8L422.0,271.7M413.6,273.8L422.9,281.3M413.1,282.3L412.9,291.0M413.1,282.3L422.0,271.7M413.1,282.3L422.9,281.3M413.1,282.3L422.1,289.7M412.9,291.0L413.1,300.6M412.9,291.0L422.9,281.3M412.9,291.0L422.1,289.7M412.9,291.0L422.5,298.5M413.1,300.6L413.7,308.9M413.1,300.6L422.1,289.7M413.1,300.6L422.5,298.5M413.1,300.6L422.2,307.1M413.7,308.9L422.5,298.5M413.7,308.9L422.2,307.1M422.4,182.9L422.4,191.2M422.4,191.2L432.4,198.6M422.4,191.2L419.3,198.8M422.5,217.5L431.6,207.9M422.5,217.5L432.0,216.8M422.5,217.5L431.4,225.6M422.5,217.5L420.2,209.9M422.5,217.5L420.2,229.2M422.5,217.5L407.4,214.4M422.6,245.3L422.6,254.4M422.6,245.3L432.3,235.5M422.6,245.3L431.3,244.0M422.6,245.3L432.3,252.1M422.6,245.3L414.7,243.0M422.6,245.3L424.0,240.6M422.6,245.3L417.0,258.0M422.6,254.4L422.6,262.2M422.6,254.4L431.3,244.0M422.6,254.4L432.3,252.1M422.6,254.4L432.4,261.2M422.6,254.4L414.7,243.0M422.6,254.4L424.0,240.6M422.6,254.4L417.0,258.0M422.6,262.2L422.0,271.7M422.6,262.2L432.3,252.1M422.6,262.2L432.4,261.2M422.6,262.2L432.1,270.8M422.6,262.2L417.0,258.0M422.0,271.7L422.9,281.3M422.0,271.7L432.4,261.2M422.0,271.7L432.1,270.8M422.0,271.7L432.1,279.4M422.0,271.7L417.0,258.0M422.9,281.3L422.1,289.7M422.9,281.3L432.1,270.8M422.9,281.3L432.1,279.4M422.9,281.3L431.8,288.7M422.1,289.7L422.5,298.5M422.1,289.7L432.1,279.4M422.1,289.7L431.8,288.7M422.5,298.5L422.2,307.1M422.5,298.5L431.8,288.7M432.4,198.6L431.6,207.9M432.4,198.6L419.3,198.8M431.6,207.9L432.0,216.8M431.6,207.9L419.3,198.8M431.6,207.9L420.2,209.9M432.0,216.8L431.4,225.6M432.0,216.8L420.2,209.9M431.4,225.6L432.3,235.5M431.4,225.6L441.5,229.5M431.4,225.6L420.2,229.2M432.3,235.5L431.3,244.0M432.3,235.5L441.5,229.5M432.3,235.5L440.8,238.7M432.3,235.5L441.2,247.6M432.3,235.5L420.2,229.2M432.3,235.5L424.0,240.6M431.3,244.0L432.3,252.1M431.3,244.0L440.8,238.7M431.3,244.0L441.2,247.6M431.3,244.0L441.8,255.3M431.3,244.0L424.0,240.6M432.3,252.1L432.4,261.2M432.3,252.1L441.2,247.6M432.3,252.1L441.8,255.3M432.3,252.1L424.0,240.6M432.4,261.2L432.1,270.8M432.4,261.2L441.8,255.3M432.4,261.2L441.6,265.5M432.4,261.2L440.6,273.5M432.1,270.8L432.1,279.4M432.1,270.8L441.6,265.5M432.1,270.8L440.6,273.5M432.1,279.4L431.8,288.7M432.1,279.4L440.6,273.5M441.5,229.5L440.8,238.7M440.8,238.7L441.2,247.6M441.2,247.6L441.8,255.3M441.8,255.3L441.6,265.5M441.6,265.5L440.6,273.5M350.5,198.0L351.4,209.0M351.4,209.0L362.4,208.2M351.4,209.0L352.0,219.5M362.4,208.2L370.7,218.0M362.4,208.2L352.0,219.5M362.4,208.2L361.5,222.0M362.4,208.2L372.5,197.4M362.4,208.2L372.5,208.2M370.7,218.0L361.5,222.0M370.7,218.0L372.5,208.2M370.7,218.0L380.8,225.4M352.0,219.5L361.5,222.0M371.6,177.4L361.5,177.7M371.6,177.4L369.8,187.5M361.5,177.7L369.8,187.5M393.6,178.6L389.0,187.8M393.6,178.6L402.8,181.4M389.0,187.8L383.5,200.7M389.0,187.8L393.8,198.0M389.0,187.8L402.8,181.4M369.8,187.5L372.5,197.4M372.5,197.4L383.5,200.7M372.5,197.4L372.5,208.2M383.5,200.7L393.8,198.0M383.5,200.7L372.5,208.2M393.8,198.0L404.6,195.6M404.6,195.6L419.3,198.8M404.6,195.6L402.8,181.4M419.3,198.8L420.2,209.9M420.2,209.9L407.4,214.4M380.8,225.4L379.0,236.5M420.2,229.2L407.4,224.5M420.2,229.2L408.3,236.5M420.2,229.2L414.7,243.0M420.2,229.2L424.0,240.6M397.3,238.3L398.2,227.8M397.3,238.3L408.3,236.5M370.7,265.0L379.0,254.9M331.4,299.5L321.5,297.7M407.4,214.4L399.0,219.0M407.4,214.4L407.4,224.5M399.0,219.0L398.2,227.8M399.0,219.0L407.4,224.5M398.2,227.8L407.4,224.5M398.2,227.8L408.3,236.5M407.4,224.5L408.3,236.5M408.3,236.5L414.7,243.0M414.7,243.0L424.0,240.6M414.7,243.0L406.0,254.0M414.7,243.0L417.0,258.0M406.0,254.0L417.0,258.0" stroke="#a6c8ef" stroke-width="1.2" fill="none" opacity="0.85"/>
<rect x="260.4" y="176.4" width="8.8" height="7.9" rx="1.9" fill="url(#ng)" stroke="#b4b8bd" stroke-width="0.3"/>
<rect x="260.5" y="184.5" width="8.8" height="7.9" rx="1.9" fill="url(#ng)" stroke="#b4b8bd" stroke-width="0.3"/>
<rect x="260.9" y="194.5" width="8.8" height="7.9" rx="1.9" fill="url(#ng)" stroke="#b4b8bd" stroke-width="0.3"/>
<rect x="260.5" y="202.7" width="8.8" height="7.9" rx="1.9" fill="url(#ng)" stroke="#b4b8bd" stroke-width="0.3"/>
<rect x="261.1" y="212.4" width="8.8" height="7.9" rx="1.9" fill="url(#ng)" stroke="#b4b8bd" stroke-width="0.3"/>
<rect x="261.5" y="221.3" width="8.8" height="7.9" rx="1.9" fill="url(#ng)" stroke="#b4b8bd" stroke-width="0.3"/>
<rect x="269.7" y="151.0" width="8.8" height="7.9" rx="1.9" fill="url(#ng)" stroke="#b4b8bd" stroke-width="0.3"/>
<rect x="270.1" y="168.9" width="8.8" height="7.9" rx="1.9" fill="url(#ng)" stroke="#b4b8bd" stroke-width="0.3"/>
<rect x="269.6" y="178.0" width="8.8" height="7.9" rx="1.9" fill="url(#ng)" stroke="#b4b8bd" stroke-width="0.3"/>
<rect x="269.7" y="187.3" width="8.8" height="7.9" rx="1.9" fill="url(#ng)" stroke="#b4b8bd" stroke-width="0.3"/>
<rect x="269.6" y="197.1" width="8.8" height="7.9" rx="1.9" fill="url(#ng)" stroke="#b4b8bd" stroke-width="0.3"/>
<rect x="270.5" y="204.9" width="8.8" height="7.9" rx="1.9" fill="url(#ng)" stroke="#b4b8bd" stroke-width="0.3"/>
<rect x="270.0" y="214.1" width="8.8" height="7.9" rx="1.9" fill="url(#ng)" stroke="#b4b8bd" stroke-width="0.3"/>
<rect x="270.1" y="222.7" width="8.8" height="7.9" rx="1.9" fill="url(#ng)" stroke="#b4b8bd" stroke-width="0.3"/>
<rect x="270.8" y="233.1" width="8.8" height="7.9" rx="1.9" fill="url(#ng)" stroke="#b4b8bd" stroke-width="0.3"/>
<rect x="270.3" y="241.2" width="8.8" height="7.9" rx="1.9" fill="url(#ng)" stroke="#b4b8bd" stroke-width="0.3"/>
<rect x="269.7" y="249.5" width="8.8" height="7.9" rx="1.9" fill="url(#ng)" stroke="#b4b8bd" stroke-width="0.3"/>
<rect x="270.1" y="258.7" width="8.8" height="7.9" rx="1.9" fill="url(#ng)" stroke="#b4b8bd" stroke-width="0.3"/>
<rect x="270.8" y="267.5" width="8.8" height="7.9" rx="1.9" fill="url(#ng)" stroke="#b4b8bd" stroke-width="0.3"/>
<rect x="269.6" y="277.7" width="8.8" height="7.9" rx="1.9" fill="url(#ng)" stroke="#b4b8bd" stroke-width="0.3"/>
<rect x="270.4" y="294.2" width="8.8" height="7.9" rx="1.9" fill="url(#ng)" stroke="#b4b8bd" stroke-width="0.3"/>
<rect x="280.0" y="140.5" width="8.8" height="7.9" rx="1.9" fill="url(#ng)" stroke="#b4b8bd" stroke-width="0.3"/>
<rect x="280.0" y="149.2" width="8.8" height="7.9" rx="1.9" fill="url(#ng)" stroke="#b4b8bd" stroke-width="0.3"/>
<rect x="280.0" y="158.1" width="8.8" height="7.9" rx="1.9" fill="url(#nG)"/>
<rect x="279.2" y="166.6" width="8.8" height="7.9" rx="1.9" fill="url(#nG)"/>
<rect x="279.3" y="174.8" width="8.8" height="7.9" rx="1.9" fill="url(#nG)"/>
<rect x="278.9" y="184.2" width="8.8" height="7.9" rx="1.9" fill="url(#nG)"/>
<rect x="279.2" y="193.8" width="8.8" height="7.9" rx="1.9" fill="url(#nG)"/>
<rect x="280.2" y="202.3" width="8.8" height="7.9" rx="1.9" fill="url(#nG)"/>
<rect x="280.2" y="212.1" width="8.8" height="7.9" rx="1.9" fill="url(#nG)"/>
<rect x="280.2" y="220.1" width="8.8" height="7.9" rx="1.9" fill="url(#nG)"/>
<rect x="279.2" y="228.8" width="8.8" height="7.9" rx="1.9" fill="url(#ng)" stroke="#b4b8bd" stroke-width="0.3"/>
<rect x="279.1" y="237.7" width="8.8" height="7.9" rx="1.9" fill="url(#ng)" stroke="#b4b8bd" stroke-width="0.3"/>
<rect x="279.7" y="247.8" width="8.8" height="7.9" rx="1.9" fill="url(#ng)" stroke="#b4b8bd" stroke-width="0.3"/>
<rect x="280.0" y="256.1" width="8.8" height="7.9" rx="1.9" fill="url(#ng)" stroke="#b4b8bd" stroke-width="0.3"/>
<rect x="279.8" y="265.5" width="8.8" height="7.9" rx="1.9" fill="url(#ng)" stroke="#b4b8bd" stroke-width="0.3"/>
<rect x="279.0" y="274.3" width="8.8" height="7.9" rx="1.9" fill="url(#ng)" stroke="#b4b8bd" stroke-width="0.3"/>
<rect x="280.1" y="283.4" width="8.8" height="7.9" rx="1.9" fill="url(#ng)" stroke="#b4b8bd" stroke-width="0.3"/>
<rect x="279.9" y="291.9" width="8.8" height="7.9" rx="1.9" fill="url(#ng)" stroke="#b4b8bd" stroke-width="0.3"/>
<rect x="279.1" y="301.3" width="8.8" height="7.9" rx="1.9" fill="url(#ng)" stroke="#b4b8bd" stroke-width="0.3"/>
<rect x="279.3" y="310.3" width="8.8" height="7.9" rx="1.9" fill="url(#ng)" stroke="#b4b8bd" stroke-width="0.3"/>
<rect x="288.3" y="132.7" width="8.8" height="7.9" rx="1.9" fill="url(#ng)" stroke="#b4b8bd" stroke-width="0.3"/>
<rect x="289.4" y="142.7" width="8.8" height="7.9" rx="1.9" fill="url(#ng)" stroke="#b4b8bd" stroke-width="0.3"/>
<rect x="288.3" y="151.6" width="8.8" height="7.9" rx="1.9" fill="url(#nG)"/>
<rect x="289.5" y="160.3" width="8.8" height="7.9" rx="1.9" fill="url(#nG)"/>
<rect x="288.6" y="169.1" width="8.8" height="7.9" rx="1.9" fill="url(#nG)"/>
<rect x="288.3" y="177.2" width="8.8" height="7.9" rx="1.9" fill="url(#nG)"/>
<rect x="289.5" y="187.2" width="8.8" height="7.9" rx="1.9" fill="url(#nG)"/>
<rect x="288.8" y="196.6" width="8.8" height="7.9" rx="1.9" fill="url(#nG)"/>
<rect x="288.7" y="205.4" width="8.8" height="7.9" rx="1.9" fill="url(#nG)"/>
<rect x="289.3" y="213.3" width="8.8" height="7.9" rx="1.9" fill="url(#nG)"/>
<rect x="288.5" y="222.4" width="8.8" height="7.9" rx="1.9" fill="url(#nG)"/>
<rect x="288.4" y="231.8" width="8.8" height="7.9" rx="1.9" fill="url(#ng)" stroke="#b4b8bd" stroke-width="0.3"/>
<rect x="288.5" y="240.5" width="8.8" height="7.9" rx="1.9" fill="url(#nk)" stroke="#b4b8bd" stroke-width="0.3"/>
<rect x="288.3" y="250.2" width="8.8" height="7.9" rx="1.9" fill="url(#nk)" stroke="#b4b8bd" stroke-width="0.3"/>
<rect x="288.6" y="258.5" width="8.8" height="7.9" rx="1.9" fill="url(#nk)" stroke="#b4b8bd" stroke-width="0.3"/>
<rect x="288.9" y="268.1" width="8.8" height="7.9" rx="1.9" fill="url(#nk)" stroke="#b4b8bd" stroke-width="0.3"/>
<rect x="288.7" y="277.1" width="8.8" height="7.9" rx="1.9" fill="url(#nk)" stroke="#b4b8bd" stroke-width="0.3"/>
<rect x="288.8" y="285.4" width="8.8" height="7.9" rx="1.9" fill="url(#nk)" stroke="#b4b8bd" stroke-width="0.3"/>
<rect x="288.8" y="293.6" width="8.8" height="7.9" rx="1.9" fill="url(#nk)" stroke="#b4b8bd" stroke-width="0.3"/>
<rect x="288.7" y="302.8" width="8.8" height="7.9" rx="1.9" fill="url(#nk)" stroke="#b4b8bd" stroke-width="0.3"/>
<rect x="288.1" y="312.7" width="8.8" height="7.9" rx="1.9" fill="url(#ng)" stroke="#b4b8bd" stroke-width="0.3"/>
<rect x="298.1" y="132.8" width="8.8" height="7.9" rx="1.9" fill="url(#ng)" stroke="#b4b8bd" stroke-width="0.3"/>
<rect x="297.5" y="141.4" width="8.8" height="7.9" rx="1.9" fill="url(#ng)" stroke="#b4b8bd" stroke-width="0.3"/>
<rect x="297.7" y="149.9" width="8.8" height="7.9" rx="1.9" fill="url(#nG)"/>
<rect x="298.4" y="159.2" width="8.8" height="7.9" rx="1.9" fill="url(#nG)"/>
<rect x="298.1" y="168.6" width="8.8" height="7.9" rx="1.9" fill="url(#nG)"/>
<rect x="298.6" y="177.0" width="8.8" height="7.9" rx="1.9" fill="url(#nG)"/>
<rect x="298.2" y="186.1" width="8.8" height="7.9" rx="1.9" fill="url(#nG)"/>
<rect x="298.1" y="195.3" width="8.8" height="7.9" rx="1.9" fill="url(#nG)"/>
<rect x="298.0" y="204.0" width="8.8" height="7.9" rx="1.9" fill="url(#nG)"/>
<rect x="298.0" y="213.6" width="8.8" height="7.9" rx="1.9" fill="url(#nO)"/>
<rect x="298.7" y="230.4" width="8.8" height="7.9" rx="1.9" fill="url(#nO)"/>
<rect x="298.1" y="240.5" width="8.8" height="7.9" rx="1.9" fill="url(#nO)"/>
<rect x="298.5" y="248.1" width="8.8" height="7.9" rx="1.9" fill="url(#nO)"/>
<rect x="297.5" y="257.5" width="8.8" height="7.9" rx="1.9" fill="url(#nO)"/>
<rect x="297.5" y="266.2" width="8.8" height="7.9" rx="1.9" fill="url(#nk)" stroke="#b4b8bd" stroke-width="0.3"/>
<rect x="297.5" y="275.8" width="8.8" height="7.9" rx="1.9" fill="url(#nk)" stroke="#b4b8bd" stroke-width="0.3"/>
<rect x="298.4" y="285.1" width="8.8" height="7.9" rx="1.9" fill="url(#nk)" stroke="#b4b8bd" stroke-width="0.3"/>
<rect x="297.6" y="293.8" width="8.8" height="7.9" rx="1.9" fill="url(#nk)" stroke="#b4b8bd" stroke-width="0.3"/>
<rect x="298.3" y="301.8" width="8.8" height="7.9" rx="1.9" fill="url(#nk)" stroke="#b4b8bd" stroke-width="0.3"/>
<rect x="298.6" y="312.1" width="8.8" height="7.9" rx="1.9" fill="url(#ng)" stroke="#b4b8bd" stroke-width="0.3"/>
<rect x="306.8" y="130.6" width="8.8" height="7.9" rx="1.9" fill="url(#ng)" stroke="#b4b8bd" stroke-width="0.3"/>
<rect x="307.3" y="139.4" width="8.8" height="7.9" rx="1.9" fill="url(#nG)"/>
<rect x="306.9" y="148.4" width="8.8" height="7.9" rx="1.9" fill="url(#nG)"/>
<rect x="307.6" y="156.8" width="8.8" height="7.9" rx="1.9" fill="url(#nG)"/>
<rect x="307.4" y="166.4" width="8.8" height="7.9" rx="1.9" fill="url(#nG)"/>
<rect x="306.6" y="175.2" width="8.8" height="7.9" rx="1.9" fill="url(#nG)"/>
<rect x="307.5" y="184.5" width="8.8" height="7.9" rx="1.9" fill="url(#nG)"/>
<rect x="306.7" y="194.2" width="8.8" height="7.9" rx="1.9" fill="url(#nG)"/>
<rect x="307.7" y="203.1" width="8.8" height="7.9" rx="1.9" fill="url(#nG)"/>
<rect x="306.7" y="210.9" width="8.8" height="7.9" rx="1.9" fill="url(#nG)"/>
<rect x="306.7" y="220.7" width="8.8" height="7.9" rx="1.9" fill="url(#nO)"/>
<rect x="307.0" y="228.6" width="8.8" height="7.9" rx="1.9" fill="url(#nO)"/>
<rect x="307.2" y="238.8" width="8.8" height="7.9" rx="1.9" fill="url(#nO)"/>
<rect x="307.7" y="246.7" width="8.8" height="7.9" rx="1.9" fill="url(#nO)"/>
<rect x="306.8" y="256.7" width="8.8" height="7.9" rx="1.9" fill="url(#nO)"/>
<rect x="307.4" y="265.3" width="8.8" height="7.9" rx="1.9" fill="url(#nk)" stroke="#b4b8bd" stroke-width="0.3"/>
<rect x="306.7" y="273.2" width="8.8" height="7.9" rx="1.9" fill="url(#nk)" stroke="#b4b8bd" stroke-width="0.3"/>
<rect x="307.6" y="282.8" width="8.8" height="7.9" rx="1.9" fill="url(#nk)" stroke="#b4b8bd" stroke-width="0.3"/>
<rect x="306.7" y="292.5" width="8.8" height="7.9" rx="1.9" fill="url(#nk)" stroke="#b4b8bd" stroke-width="0.3"/>
<rect x="307.5" y="301.3" width="8.8" height="7.9" rx="1.9" fill="url(#nk)" stroke="#b4b8bd" stroke-width="0.3"/>
<rect x="306.7" y="310.3" width="8.8" height="7.9" rx="1.9" fill="url(#nk)" stroke="#b4b8bd" stroke-width="0.3"/>
<rect x="316.2" y="132.5" width="8.8" height="7.9" rx="1.9" fill="url(#ng)" stroke="#b4b8bd" stroke-width="0.3"/>
<rect x="316.6" y="141.6" width="8.8" height="7.9" rx="1.9" fill="url(#ng)" stroke="#b4b8bd" stroke-width="0.3"/>
<rect x="316.0" y="150.4" width="8.8" height="7.9" rx="1.9" fill="url(#nG)"/>
<rect x="315.9" y="159.5" width="8.8" height="7.9" rx="1.9" fill="url(#nG)"/>
<rect x="316.3" y="168.6" width="8.8" height="7.9" rx="1.9" fill="url(#nG)"/>
<rect x="316.9" y="177.5" width="8.8" height="7.9" rx="1.9" fill="url(#nG)"/>
<rect x="316.6" y="186.3" width="8.8" height="7.9" rx="1.9" fill="url(#nG)"/>
<rect x="316.2" y="203.9" width="8.8" height="7.9" rx="1.9" fill="url(#nO)"/>
<rect x="316.9" y="213.7" width="8.8" height="7.9" rx="1.9" fill="url(#nO)"/>
<rect x="316.1" y="222.5" width="8.8" height="7.9" rx="1.9" fill="url(#nO)"/>
<rect x="317.0" y="240.4" width="8.8" height="7.9" rx="1.9" fill="url(#nO)"/>
<rect x="316.5" y="250.0" width="8.8" height="7.9" rx="1.9" fill="url(#nO)"/>
<rect x="316.4" y="258.4" width="8.8" height="7.9" rx="1.9" fill="url(#nO)"/>
<rect x="316.8" y="268.1" width="8.8" height="7.9" rx="1.9" fill="url(#nO)"/>
<rect x="316.3" y="276.8" width="8.8" height="7.9" rx="1.9" fill="url(#nO)"/>
<rect x="316.8" y="285.4" width="8.8" height="7.9" rx="1.9" fill="url(#nO)"/>
<rect x="315.9" y="302.5" width="8.8" height="7.9" rx="1.9" fill="url(#nO)"/>
<rect x="315.9" y="312.5" width="8.8" height="7.9" rx="1.9" fill="url(#ng)" stroke="#b4b8bd" stroke-width="0.3"/>
<rect x="325.3" y="148.4" width="8.8" height="7.9" rx="1.9" fill="url(#nG)"/>
<rect x="325.5" y="158.2" width="8.8" height="7.9" rx="1.9" fill="url(#nG)"/>
<rect x="326.5" y="166.5" width="8.8" height="7.9" rx="1.9" fill="url(#nG)"/>
<rect x="325.4" y="176.1" width="8.8" height="7.9" rx="1.9" fill="url(#nG)"/>
<rect x="325.5" y="184.1" width="8.8" height="7.9" rx="1.9" fill="url(#nG)"/>
<rect x="325.1" y="193.1" width="8.8" height="7.9" rx="1.9" fill="url(#nO)"/>
<rect x="325.8" y="202.2" width="8.8" height="7.9" rx="1.9" fill="url(#nO)"/>
<rect x="325.4" y="211.2" width="8.8" height="7.9" rx="1.9" fill="url(#nO)"/>
<rect x="325.1" y="219.8" width="8.8" height="7.9" rx="1.9" fill="url(#nO)"/>
<rect x="325.2" y="228.9" width="8.8" height="7.9" rx="1.9" fill="url(#nO)"/>
<rect x="325.2" y="237.3" width="8.8" height="7.9" rx="1.9" fill="url(#nO)"/>
<rect x="325.5" y="246.6" width="8.8" height="7.9" rx="1.9" fill="url(#nO)"/>
<rect x="325.9" y="256.0" width="8.8" height="7.9" rx="1.9" fill="url(#nO)"/>
<rect x="326.2" y="265.1" width="8.8" height="7.9" rx="1.9" fill="url(#nO)"/>
<rect x="326.1" y="274.4" width="8.8" height="7.9" rx="1.9" fill="url(#nO)"/>
<rect x="325.6" y="282.5" width="8.8" height="7.9" rx="1.9" fill="url(#nO)"/>
<rect x="326.1" y="300.9" width="8.8" height="7.9" rx="1.9" fill="url(#nO)"/>
<rect x="325.2" y="310.2" width="8.8" height="7.9" rx="1.9" fill="url(#ng)" stroke="#b4b8bd" stroke-width="0.3"/>
<rect x="326.3" y="318.8" width="8.8" height="7.9" rx="1.9" fill="url(#ng)" stroke="#b4b8bd" stroke-width="0.3"/>
<rect x="335.5" y="142.2" width="8.8" height="7.9" rx="1.9" fill="url(#ng)" stroke="#b4b8bd" stroke-width="0.3"/>
<rect x="335.2" y="151.2" width="8.8" height="7.9" rx="1.9" fill="url(#ng)" stroke="#b4b8bd" stroke-width="0.3"/>
<rect x="335.3" y="159.9" width="8.8" height="7.9" rx="1.9" fill="url(#nG)"/>
<rect x="334.7" y="167.7" width="8.8" height="7.9" rx="1.9" fill="url(#nG)"/>
<rect x="334.5" y="186.9" width="8.8" height="7.9" rx="1.9" fill="url(#nO)"/>
<rect x="335.1" y="195.5" width="8.8" height="7.9" rx="1.9" fill="url(#nO)"/>
<rect x="335.2" y="204.6" width="8.8" height="7.9" rx="1.9" fill="url(#nO)"/>
<rect x="335.0" y="212.5" width="8.8" height="7.9" rx="1.9" fill="url(#nO)"/>
<rect x="335.5" y="222.6" width="8.8" height="7.9" rx="1.9" fill="url(#nO)"/>
<rect x="335.1" y="231.2" width="8.8" height="7.9" rx="1.9" fill="url(#nO)"/>
<rect x="335.3" y="239.4" width="8.8" height="7.9" rx="1.9" fill="url(#nO)"/>
<rect x="335.4" y="248.6" width="8.8" height="7.9" rx="1.9" fill="url(#nO)"/>
<rect x="334.5" y="257.6" width="8.8" height="7.9" rx="1.9" fill="url(#nO)"/>
<rect x="335.4" y="266.5" width="8.8" height="7.9" rx="1.9" fill="url(#nO)"/>
<rect x="335.0" y="284.7" width="8.8" height="7.9" rx="1.9" fill="url(#nO)"/>
<rect x="335.0" y="294.1" width="8.8" height="7.9" rx="1.9" fill="url(#nO)"/>
<rect x="335.4" y="302.9" width="8.8" height="7.9" rx="1.9" fill="url(#nO)"/>
<rect x="335.2" y="311.0" width="8.8" height="7.9" rx="1.9" fill="url(#ng)" stroke="#b4b8bd" stroke-width="0.3"/>
<rect x="344.5" y="148.4" width="8.8" height="7.9" rx="1.9" fill="url(#ng)" stroke="#b4b8bd" stroke-width="0.3"/>
<rect x="344.3" y="157.6" width="8.8" height="7.9" rx="1.9" fill="url(#nG)"/>
<rect x="344.3" y="166.0" width="8.8" height="7.9" rx="1.9" fill="url(#nG)"/>
<rect x="344.9" y="175.1" width="8.8" height="7.9" rx="1.9" fill="url(#nB)"/>
<rect x="345.0" y="185.2" width="8.8" height="7.9" rx="1.9" fill="url(#nB)"/>
<rect x="343.9" y="221.0" width="8.8" height="7.9" rx="1.9" fill="url(#nO)"/>
<rect x="343.9" y="229.4" width="8.8" height="7.9" rx="1.9" fill="url(#nO)"/>
<rect x="343.8" y="238.2" width="8.8" height="7.9" rx="1.9" fill="url(#nM)"/>
<rect x="344.7" y="256.1" width="8.8" height="7.9" rx="1.9" fill="url(#nM)"/>
<rect x="344.8" y="265.4" width="8.8" height="7.9" rx="1.9" fill="url(#nM)"/>
<rect x="343.9" y="274.6" width="8.8" height="7.9" rx="1.9" fill="url(#nO)"/>
<rect x="344.3" y="282.2" width="8.8" height="7.9" rx="1.9" fill="url(#nO)"/>
<rect x="343.6" y="291.9" width="8.8" height="7.9" rx="1.9" fill="url(#nO)"/>
<rect x="344.2" y="300.5" width="8.8" height="7.9" rx="1.9" fill="url(#nO)"/>
<rect x="343.8" y="309.6" width="8.8" height="7.9" rx="1.9" fill="url(#ng)" stroke="#b4b8bd" stroke-width="0.3"/>
<rect x="353.4" y="148.6" width="8.8" height="7.9" rx="1.9" fill="url(#ng)" stroke="#b4b8bd" stroke-width="0.3"/>
<rect x="354.2" y="157.9" width="8.8" height="7.9" rx="1.9" fill="url(#ng)" stroke="#b4b8bd" stroke-width="0.3"/>
<rect x="353.4" y="166.6" width="8.8" height="7.9" rx="1.9" fill="url(#nG)"/>
<rect x="353.0" y="185.1" width="8.8" height="7.9" rx="1.9" fill="url(#nB)"/>
<rect x="353.2" y="194.3" width="8.8" height="7.9" rx="1.9" fill="url(#nB)"/>
<rect x="353.2" y="202.1" width="8.8" height="7.9" rx="1.9" fill="url(#nO)"/>
<rect x="353.6" y="211.0" width="8.8" height="7.9" rx="1.9" fill="url(#nO)"/>
<rect x="354.1" y="229.9" width="8.8" height="7.9" rx="1.9" fill="url(#ng)" stroke="#b4b8bd" stroke-width="0.3"/>
<rect x="353.7" y="239.0" width="8.8" height="7.9" rx="1.9" fill="url(#nM)"/>
<rect x="354.2" y="247.3" width="8.8" height="7.9" rx="1.9" fill="url(#nM)"/>
<rect x="353.9" y="255.5" width="8.8" height="7.9" rx="1.9" fill="url(#nM)"/>
<rect x="353.9" y="265.1" width="8.8" height="7.9" rx="1.9" fill="url(#nM)"/>
<rect x="353.9" y="274.3" width="8.8" height="7.9" rx="1.9" fill="url(#nY)"/>
<rect x="353.3" y="282.3" width="8.8" height="7.9" rx="1.9" fill="url(#nY)"/>
<rect x="354.1" y="291.4" width="8.8" height="7.9" rx="1.9" fill="url(#nY)"/>
<rect x="353.5" y="300.7" width="8.8" height="7.9" rx="1.9" fill="url(#nY)"/>
<rect x="353.3" y="310.3" width="8.8" height="7.9" rx="1.9" fill="url(#ng)" stroke="#b4b8bd" stroke-width="0.3"/>
<rect x="354.2" y="318.5" width="8.8" height="7.9" rx="1.9" fill="url(#ng)" stroke="#b4b8bd" stroke-width="0.3"/>
<rect x="363.4" y="160.3" width="8.8" height="7.9" rx="1.9" fill="url(#nB)"/>
<rect x="362.7" y="167.9" width="8.8" height="7.9" rx="1.9" fill="url(#nB)"/>
<rect x="362.4" y="194.9" width="8.8" height="7.9" rx="1.9" fill="url(#nB)"/>
<rect x="362.7" y="222.2" width="8.8" height="7.9" rx="1.9" fill="url(#nO)"/>
<rect x="362.6" y="230.8" width="8.8" height="7.9" rx="1.9" fill="url(#nM)"/>
<rect x="362.2" y="239.7" width="8.8" height="7.9" rx="1.9" fill="url(#nM)"/>
<rect x="363.5" y="248.4" width="8.8" height="7.9" rx="1.9" fill="url(#nM)"/>
<rect x="363.3" y="266.4" width="8.8" height="7.9" rx="1.9" fill="url(#nM)"/>
<rect x="362.5" y="275.4" width="8.8" height="7.9" rx="1.9" fill="url(#nY)"/>
<rect x="362.7" y="284.7" width="8.8" height="7.9" rx="1.9" fill="url(#nY)"/>
<rect x="363.4" y="294.3" width="8.8" height="7.9" rx="1.9" fill="url(#nY)"/>
<rect x="363.3" y="301.9" width="8.8" height="7.9" rx="1.9" fill="url(#nY)"/>
<rect x="362.1" y="312.0" width="8.8" height="7.9" rx="1.9" fill="url(#ng)" stroke="#b4b8bd" stroke-width="0.3"/>
<rect x="371.5" y="152.1" width="8.8" height="7.9" rx="1.9" fill="url(#ng)" stroke="#b4b8bd" stroke-width="0.3"/>
<rect x="372.1" y="161.9" width="8.8" height="7.9" rx="1.9" fill="url(#ng)" stroke="#b4b8bd" stroke-width="0.3"/>
<rect x="372.7" y="170.9" width="8.8" height="7.9" rx="1.9" fill="url(#nB)"/>
<rect x="372.3" y="179.9" width="8.8" height="7.9" rx="1.9" fill="url(#nB)"/>
<rect x="372.0" y="188.5" width="8.8" height="7.9" rx="1.9" fill="url(#nB)"/>
<rect x="372.3" y="215.0" width="8.8" height="7.9" rx="1.9" fill="url(#nT)"/>
<rect x="371.5" y="223.8" width="8.8" height="7.9" rx="1.9" fill="url(#nO)"/>
<rect x="371.5" y="241.5" width="8.8" height="7.9" rx="1.9" fill="url(#nM)"/>
<rect x="371.9" y="259.6" width="8.8" height="7.9" rx="1.9" fill="url(#nT)"/>
<rect x="372.2" y="268.2" width="8.8" height="7.9" rx="1.9" fill="url(#nY)"/>
<rect x="371.8" y="277.9" width="8.8" height="7.9" rx="1.9" fill="url(#nY)"/>
<rect x="372.7" y="287.1" width="8.8" height="7.9" rx="1.9" fill="url(#nY)"/>
<rect x="372.6" y="295.8" width="8.8" height="7.9" rx="1.9" fill="url(#nY)"/>
<rect x="371.7" y="304.4" width="8.8" height="7.9" rx="1.9" fill="url(#ng)" stroke="#b4b8bd" stroke-width="0.3"/>
<rect x="372.7" y="314.1" width="8.8" height="7.9" rx="1.9" fill="url(#ng)" stroke="#b4b8bd" stroke-width="0.3"/>
<rect x="381.6" y="157.5" width="8.8" height="7.9" rx="1.9" fill="url(#ng)" stroke="#b4b8bd" stroke-width="0.3"/>
<rect x="381.7" y="167.3" width="8.8" height="7.9" rx="1.9" fill="url(#ng)" stroke="#b4b8bd" stroke-width="0.3"/>
<rect x="381.3" y="175.4" width="8.8" height="7.9" rx="1.9" fill="url(#nB)"/>
<rect x="380.9" y="203.1" width="8.8" height="7.9" rx="1.9" fill="url(#nT)"/>
<rect x="381.0" y="212.4" width="8.8" height="7.9" rx="1.9" fill="url(#nT)"/>
<rect x="380.9" y="229.4" width="8.8" height="7.9" rx="1.9" fill="url(#nT)"/>
<rect x="381.5" y="239.2" width="8.8" height="7.9" rx="1.9" fill="url(#nT)"/>
<rect x="380.8" y="247.3" width="8.8" height="7.9" rx="1.9" fill="url(#nT)"/>
<rect x="380.9" y="257.1" width="8.8" height="7.9" rx="1.9" fill="url(#nT)"/>
<rect x="380.8" y="264.6" width="8.8" height="7.9" rx="1.9" fill="url(#nT)"/>
<rect x="380.7" y="274.1" width="8.8" height="7.9" rx="1.9" fill="url(#nT)"/>
<rect x="381.9" y="283.8" width="8.8" height="7.9" rx="1.9" fill="url(#nY)"/>
<rect x="381.6" y="293.0" width="8.8" height="7.9" rx="1.9" fill="url(#nY)"/>
<rect x="381.9" y="300.9" width="8.8" height="7.9" rx="1.9" fill="url(#ng)" stroke="#b4b8bd" stroke-width="0.3"/>
<rect x="380.9" y="310.8" width="8.8" height="7.9" rx="1.9" fill="url(#ng)" stroke="#b4b8bd" stroke-width="0.3"/>
<rect x="381.6" y="318.3" width="8.8" height="7.9" rx="1.9" fill="url(#ng)" stroke="#b4b8bd" stroke-width="0.3"/>
<rect x="390.3" y="167.9" width="8.8" height="7.9" rx="1.9" fill="url(#ng)" stroke="#b4b8bd" stroke-width="0.3"/>
<rect x="389.9" y="185.3" width="8.8" height="7.9" rx="1.9" fill="url(#ng)" stroke="#b4b8bd" stroke-width="0.3"/>
<rect x="390.1" y="203.0" width="8.8" height="7.9" rx="1.9" fill="url(#nT)"/>
<rect x="390.9" y="229.3" width="8.8" height="7.9" rx="1.9" fill="url(#nT)"/>
<rect x="391.1" y="247.6" width="8.8" height="7.9" rx="1.9" fill="url(#nT)"/>
<rect x="390.9" y="257.5" width="8.8" height="7.9" rx="1.9" fill="url(#nT)"/>
<rect x="390.3" y="265.5" width="8.8" height="7.9" rx="1.9" fill="url(#nT)"/>
<rect x="391.2" y="275.0" width="8.8" height="7.9" rx="1.9" fill="url(#nT)"/>
<rect x="390.2" y="284.1" width="8.8" height="7.9" rx="1.9" fill="url(#nT)"/>
<rect x="390.3" y="292.3" width="8.8" height="7.9" rx="1.9" fill="url(#nT)"/>
<rect x="389.9" y="302.1" width="8.8" height="7.9" rx="1.9" fill="url(#nT)"/>
<rect x="391.1" y="310.8" width="8.8" height="7.9" rx="1.9" fill="url(#ng)" stroke="#b4b8bd" stroke-width="0.3"/>
<rect x="391.2" y="318.8" width="8.8" height="7.9" rx="1.9" fill="url(#ng)" stroke="#b4b8bd" stroke-width="0.3"/>
<rect x="400.3" y="169.9" width="8.8" height="7.9" rx="1.9" fill="url(#ng)" stroke="#b4b8bd" stroke-width="0.3"/>
<rect x="399.5" y="187.2" width="8.8" height="7.9" rx="1.9" fill="url(#ng)" stroke="#b4b8bd" stroke-width="0.3"/>
<rect x="399.4" y="205.7" width="8.8" height="7.9" rx="1.9" fill="url(#nT)"/>
<rect x="400.3" y="241.9" width="8.8" height="7.9" rx="1.9" fill="url(#nT)"/>
<rect x="399.2" y="259.0" width="8.8" height="7.9" rx="1.9" fill="url(#nT)"/>
<rect x="400.1" y="267.9" width="8.8" height="7.9" rx="1.9" fill="url(#nT)"/>
<rect x="399.4" y="276.8" width="8.8" height="7.9" rx="1.9" fill="url(#nT)"/>
<rect x="400.0" y="286.1" width="8.8" height="7.9" rx="1.9" fill="url(#nT)"/>
<rect x="400.1" y="295.4" width="8.8" height="7.9" rx="1.9" fill="url(#nT)"/>
<rect x="400.0" y="303.1" width="8.8" height="7.9" rx="1.9" fill="url(#nT)"/>
<rect x="400.3" y="312.4" width="8.8" height="7.9" rx="1.9" fill="url(#ng)" stroke="#b4b8bd" stroke-width="0.3"/>
<rect x="409.5" y="171.4" width="8.8" height="7.9" rx="1.9" fill="url(#ng)" stroke="#b4b8bd" stroke-width="0.3"/>
<rect x="409.7" y="179.5" width="8.8" height="7.9" rx="1.9" fill="url(#ng)" stroke="#b4b8bd" stroke-width="0.3"/>
<rect x="409.0" y="189.6" width="8.8" height="7.9" rx="1.9" fill="url(#ng)" stroke="#b4b8bd" stroke-width="0.3"/>
<rect x="409.5" y="198.7" width="8.8" height="7.9" rx="1.9" fill="url(#ng)" stroke="#b4b8bd" stroke-width="0.3"/>
<rect x="408.4" y="206.6" width="8.8" height="7.9" rx="1.9" fill="url(#nT)"/>
<rect x="408.5" y="215.4" width="8.8" height="7.9" rx="1.9" fill="url(#nT)"/>
<rect x="409.7" y="225.0" width="8.8" height="7.9" rx="1.9" fill="url(#nT)"/>
<rect x="409.7" y="233.6" width="8.8" height="7.9" rx="1.9" fill="url(#nT)"/>
<rect x="409.7" y="260.0" width="8.8" height="7.9" rx="1.9" fill="url(#nT)"/>
<rect x="409.2" y="269.8" width="8.8" height="7.9" rx="1.9" fill="url(#nT)"/>
<rect x="408.7" y="278.4" width="8.8" height="7.9" rx="1.9" fill="url(#nT)"/>
<rect x="408.5" y="287.0" width="8.8" height="7.9" rx="1.9" fill="url(#nT)"/>
<rect x="408.7" y="296.6" width="8.8" height="7.9" rx="1.9" fill="url(#nT)"/>
<rect x="409.3" y="304.9" width="8.8" height="7.9" rx="1.9" fill="url(#nT)"/>
<rect x="418.0" y="178.9" width="8.8" height="7.9" rx="1.9" fill="url(#ng)" stroke="#b4b8bd" stroke-width="0.3"/>
<rect x="418.0" y="187.2" width="8.8" height="7.9" rx="1.9" fill="url(#ng)" stroke="#b4b8bd" stroke-width="0.3"/>
<rect x="418.1" y="213.5" width="8.8" height="7.9" rx="1.9" fill="url(#nT)"/>
<rect x="418.2" y="241.4" width="8.8" height="7.9" rx="1.9" fill="url(#nT)"/>
<rect x="418.2" y="250.4" width="8.8" height="7.9" rx="1.9" fill="url(#nT)"/>
<rect x="418.2" y="258.2" width="8.8" height="7.9" rx="1.9" fill="url(#nT)"/>
<rect x="417.6" y="267.8" width="8.8" height="7.9" rx="1.9" fill="url(#nT)"/>
<rect x="418.5" y="277.3" width="8.8" height="7.9" rx="1.9" fill="url(#nT)"/>
<rect x="417.7" y="285.8" width="8.8" height="7.9" rx="1.9" fill="url(#nT)"/>
<rect x="418.1" y="294.5" width="8.8" height="7.9" rx="1.9" fill="url(#nT)"/>
<rect x="417.8" y="303.1" width="8.8" height="7.9" rx="1.9" fill="url(#ng)" stroke="#b4b8bd" stroke-width="0.3"/>
<rect x="428.0" y="194.6" width="8.8" height="7.9" rx="1.9" fill="url(#ng)" stroke="#b4b8bd" stroke-width="0.3"/>
<rect x="427.2" y="203.9" width="8.8" height="7.9" rx="1.9" fill="url(#ng)" stroke="#b4b8bd" stroke-width="0.3"/>
<rect x="427.6" y="212.9" width="8.8" height="7.9" rx="1.9" fill="url(#nT)"/>
<rect x="427.0" y="221.6" width="8.8" height="7.9" rx="1.9" fill="url(#nT)"/>
<rect x="427.9" y="231.6" width="8.8" height="7.9" rx="1.9" fill="url(#nT)"/>
<rect x="426.9" y="240.0" width="8.8" height="7.9" rx="1.9" fill="url(#nT)"/>
<rect x="427.9" y="248.1" width="8.8" height="7.9" rx="1.9" fill="url(#nT)"/>
<rect x="428.0" y="257.2" width="8.8" height="7.9" rx="1.9" fill="url(#nT)"/>
<rect x="427.7" y="266.8" width="8.8" height="7.9" rx="1.9" fill="url(#nT)"/>
<rect x="427.7" y="275.4" width="8.8" height="7.9" rx="1.9" fill="url(#ng)" stroke="#b4b8bd" stroke-width="0.3"/>
<rect x="427.4" y="284.8" width="8.8" height="7.9" rx="1.9" fill="url(#ng)" stroke="#b4b8bd" stroke-width="0.3"/>
<rect x="437.1" y="225.5" width="8.8" height="7.9" rx="1.9" fill="url(#ng)" stroke="#b4b8bd" stroke-width="0.3"/>
<rect x="436.4" y="234.7" width="8.8" height="7.9" rx="1.9" fill="url(#ng)" stroke="#b4b8bd" stroke-width="0.3"/>
<rect x="436.8" y="243.6" width="8.8" height="7.9" rx="1.9" fill="url(#ng)" stroke="#b4b8bd" stroke-width="0.3"/>
<rect x="437.4" y="251.3" width="8.8" height="7.9" rx="1.9" fill="url(#ng)" stroke="#b4b8bd" stroke-width="0.3"/>
<rect x="437.2" y="261.5" width="8.8" height="7.9" rx="1.9" fill="url(#ng)" stroke="#b4b8bd" stroke-width="0.3"/>
<rect x="436.2" y="269.5" width="8.8" height="7.9" rx="1.9" fill="url(#ng)" stroke="#b4b8bd" stroke-width="0.3"/>
<circle cx="350.5" cy="198.0" r="4.5" fill="url(#nO)"/>
<circle cx="351.4" cy="209.0" r="4.5" fill="url(#nO)"/>
<circle cx="362.4" cy="208.2" r="4.5" fill="url(#nO)"/>
<circle cx="370.7" cy="218.0" r="4.5" fill="url(#nO)"/>
<circle cx="352.0" cy="219.5" r="4.5" fill="url(#nO)"/>
<circle cx="361.5" cy="222.0" r="4.5" fill="url(#nO)"/>
<rect x="322.4" y="141.3" width="9.0" height="8.6" rx="1.9" fill="url(#ng)" stroke="#cf232b" stroke-width="1.25"/>
<rect x="271.5" y="159.0" width="8.4" height="8.1" rx="1.9" fill="url(#nW)" stroke="#d3df2c" stroke-width="1.25"/>
<rect x="249.9" y="195.1" width="8.0" height="7.7" rx="1.9" fill="url(#nW)" stroke="#d3df2c" stroke-width="1.25"/>
<rect x="367.1" y="173.1" width="9.0" height="8.6" rx="1.9" fill="url(#nB)" stroke="#cf232b" stroke-width="1.25"/>
<circle cx="361.5" cy="177.7" r="4.5" fill="url(#nB)" stroke="#d3df2c" stroke-width="1.25"/>
<circle cx="393.6" cy="178.6" r="4.5" fill="url(#nG)" stroke="#d3df2c" stroke-width="1.25"/>
<circle cx="389.0" cy="187.8" r="4.5" fill="url(#nG)" stroke="#d3df2c" stroke-width="1.25"/>
<circle cx="369.8" cy="187.5" r="4.5" fill="url(#nY)" stroke="#d3df2c" stroke-width="1.25"/>
<circle cx="372.5" cy="197.4" r="4.5" fill="url(#nB)" stroke="#d3df2c" stroke-width="1.25"/>
<circle cx="383.5" cy="200.7" r="4.8" fill="url(#nB)" stroke="#cf232b" stroke-width="1.25"/>
<circle cx="393.8" cy="198.0" r="4.8" fill="url(#nB)" stroke="#cf232b" stroke-width="1.25"/>
<circle cx="372.5" cy="208.2" r="4.6" fill="url(#nB)" stroke="#cf232b" stroke-width="1.25"/>
<polygon points="404.6,188.1 410.3,199.5 398.9,199.5" fill="url(#nY)" stroke="#cf232b" stroke-width="1.3" stroke-linejoin="round"/>
<polygon points="419.3,191.3 425.0,202.7 413.6,202.7" fill="url(#nY)" stroke="#cf232b" stroke-width="1.3" stroke-linejoin="round"/>
<rect x="398.6" y="177.6" width="8.4" height="7.6" rx="1.9" fill="url(#nY)"/>
<rect x="415.5" y="205.4" width="9.4" height="9.0" rx="1.9" fill="url(#nT)" stroke="#cf232b" stroke-width="1.25"/>
<rect x="376.1" y="220.9" width="9.4" height="9.0" rx="1.9" fill="url(#nT)" stroke="#cf232b" stroke-width="1.25"/>
<rect x="415.5" y="224.7" width="9.4" height="9.0" rx="1.9" fill="url(#nT)" stroke="#cf232b" stroke-width="1.25"/>
<rect x="392.6" y="233.8" width="9.4" height="9.0" rx="1.9" fill="url(#nT)" stroke="#cf232b" stroke-width="1.25"/>
<rect x="366.0" y="260.5" width="9.4" height="9.0" rx="1.9" fill="url(#nY)" stroke="#cf232b" stroke-width="1.25"/>
<rect x="338.0" y="276.1" width="9.4" height="9.0" rx="1.9" fill="url(#nY)" stroke="#cf232b" stroke-width="1.25"/>
<rect x="325.9" y="294.2" width="11.0" height="10.6" rx="1.9" fill="url(#nO)" stroke="#cf232b" stroke-width="1.25"/>
<rect x="316.9" y="232.9" width="9.4" height="9.0" rx="1.9" fill="url(#nO)" stroke="#cf232b" stroke-width="1.25"/>
<rect x="298.0" y="224.2" width="8.6" height="8.3" rx="1.9" fill="url(#nO)" stroke="#d3df2c" stroke-width="1.25"/>
<rect x="318.2" y="197.5" width="8.6" height="8.3" rx="1.9" fill="url(#nG)" stroke="#d3df2c" stroke-width="1.25"/>
<rect x="336.5" y="178.2" width="8.6" height="8.3" rx="1.9" fill="url(#nG)" stroke="#d3df2c" stroke-width="1.25"/>
<circle cx="407.4" cy="214.4" r="4.5" fill="url(#nT)" stroke="#d3df2c" stroke-width="1.25"/>
<circle cx="399.0" cy="219.0" r="4.5" fill="url(#nT)" stroke="#d3df2c" stroke-width="1.25"/>
<circle cx="398.2" cy="227.8" r="4.5" fill="url(#nT)" stroke="#d3df2c" stroke-width="1.25"/>
<circle cx="407.4" cy="224.5" r="4.5" fill="url(#nT)" stroke="#d3df2c" stroke-width="1.25"/>
<circle cx="379.0" cy="236.5" r="4.5" fill="url(#nT)" stroke="#d3df2c" stroke-width="1.25"/>
<circle cx="379.0" cy="254.9" r="4.5" fill="url(#nT)" stroke="#d3df2c" stroke-width="1.25"/>
<rect x="347.1" y="245.3" width="8.6" height="8.3" rx="1.9" fill="url(#nM)" stroke="#d3df2c" stroke-width="1.25"/>
<rect x="269.7" y="285.1" width="8.4" height="7.6" rx="1.9" fill="url(#nW)"/>
<rect x="317.3" y="293.9" width="8.4" height="7.6" rx="1.9" fill="url(#nW)"/>
<rect x="404.2" y="232.8" width="8.2" height="7.4" rx="1.9" fill="url(#nP)"/>
<rect x="410.6" y="239.3" width="8.2" height="7.4" rx="1.9" fill="url(#nS)"/>
<rect x="419.9" y="236.9" width="8.2" height="7.4" rx="1.9" fill="url(#nP)"/>
<rect x="401.9" y="250.3" width="8.2" height="7.4" rx="1.9" fill="url(#nS)"/>
<rect x="412.9" y="254.3" width="8.2" height="7.4" rx="1.9" fill="url(#nP)"/>
<g transform="scale(0.1)" font-size="28" font-weight="bold" text-anchor="middle" fill="#050505" stroke="#050505" stroke-width="2.2">
<text x="2648" y="1814" textLength="62" lengthAdjust="spacingAndGlyphs">NFKR18</text>
<text x="2649" y="1895" textLength="70" lengthAdjust="spacingAndGlyphs">CDKA10</text>
<text x="2653" y="1994" textLength="83" lengthAdjust="spacingAndGlyphs">JAKK12</text>
<text x="2649" y="2077" textLength="83" lengthAdjust="spacingAndGlyphs">AKTB6</text>
<text x="2655" y="2173" textLength="70" lengthAdjust="spacingAndGlyphs">MAPL8</text>
<text x="2659" y="2263" textLength="70" lengthAdjust="spacingAndGlyphs">IRA3</text>
<text x="2741" y="1560" textLength="70" lengthAdjust="spacingAndGlyphs">MYDP9</text>
<text x="2745" y="1739" textLength="80" lengthAdjust="spacingAndGlyphs">FGFR1</text>
<text x="2740" y="1830" textLength="62" lengthAdjust="spacingAndGlyphs">PTPL18</text>
<text x="2741" y="1923" textLength="76" lengthAdjust="spacingAndGlyphs">SHCP19</text>
<text x="2740" y="2020" textLength="80" lengthAdjust="spacingAndGlyphs">SHCA16</text>
<text x="2749" y="2098" textLength="70" lengthAdjust="spacingAndGlyphs">SOC2</text>
<text x="2744" y="2191" textLength="62" lengthAdjust="spacingAndGlyphs">STA13</text>
<text x="2745" y="2277" textLength="70" lengthAdjust="spacingAndGlyphs">CEBK2</text>
<text x="2752" y="2380" textLength="62" lengthAdjust="spacingAndGlyphs">MAPA18</text>
<text x="2747" y="2462" textLength="70" lengthAdjust="spacingAndGlyphs">JAKB7</text>
<text x="2741" y="2545" textLength="83" lengthAdjust="spacingAndGlyphs">SHCP17</text>
<text x="2745" y="2637" textLength="80" lengthAdjust="spacingAndGlyphs">AKTA6</text>
<text x="2752" y="2725" textLength="83" lengthAdjust="spacingAndGlyphs">RAS10</text>
<text x="2740" y="2827" textLength="62" lengthAdjust="spacingAndGlyphs">TGFP16</text>
<text x="2748" y="2991" textLength="83" lengthAdjust="spacingAndGlyphs">MAPB14</text>
<text x="2844" y="1455" textLength="80" lengthAdjust="spacingAndGlyphs">ILP15</text>
<text x="2844" y="1542" textLength="70" lengthAdjust="spacingAndGlyphs">CEB9</text>
<text x="2844" y="1630" textLength="70" lengthAdjust="spacingAndGlyphs">PTP4</text>
<text x="2836" y="1716" textLength="76" lengthAdjust="spacingAndGlyphs">TGFP9</text>
<text x="2837" y="1798" textLength="62" lengthAdjust="spacingAndGlyphs">TNFP18</text>
<text x="2833" y="1891" textLength="80" lengthAdjust="spacingAndGlyphs">CCRL17</text>
<text x="2836" y="1987" textLength="76" lengthAdjust="spacingAndGlyphs">RASP7</text>
<text x="2846" y="2073" textLength="62" lengthAdjust="spacingAndGlyphs">TGFA1</text>
<text x="2846" y="2171" textLength="70" lengthAdjust="spacingAndGlyphs">TNFK7</text>
<text x="2846" y="2251" textLength="70" lengthAdjust="spacingAndGlyphs">HGFR7</text>
<text x="2836" y="2338" textLength="80" lengthAdjust="spacingAndGlyphs">BMPA8</text>
<text x="2835" y="2427" textLength="80" lengthAdjust="spacingAndGlyphs">ZNFL18</text>
<text x="2841" y="2528" textLength="80" lengthAdjust="spacingAndGlyphs">TRAL17</text>
<text x="2844" y="2610" textLength="62" lengthAdjust="spacingAndGlyphs">MYD14</text>
<text x="2842" y="2705" textLength="70" lengthAdjust="spacingAndGlyphs">GRBR7</text>
<text x="2834" y="2792" textLength="80" lengthAdjust="spacingAndGlyphs">SHCA3</text>
<text x="2845" y="2884" textLength="83" lengthAdjust="spacingAndGlyphs">ZNFK5</text>
<text x="2843" y="2968" textLength="62" lengthAdjust="spacingAndGlyphs">MAP4</text>
<text x="2835" y="3063" textLength="83" lengthAdjust="spacingAndGlyphs">ZNFK12</text>
<text x="2837" y="3153" textLength="70" lengthAdjust="spacingAndGlyphs">CXC1</text>
<text x="2927" y="1376" textLength="62" lengthAdjust="spacingAndGlyphs">JAKP2</text>
<text x="2938" y="1476" textLength="62" lengthAdjust="spacingAndGlyphs">HGF3</text>
<text x="2927" y="1566" textLength="83" lengthAdjust="spacingAndGlyphs">EGFR7</text>
<text x="2939" y="1653" textLength="83" lengthAdjust="spacingAndGlyphs">TGFP3</text>
<text x="2930" y="1741" textLength="80" lengthAdjust="spacingAndGlyphs">TLRK7</text>
<text x="2927" y="1822" textLength="70" lengthAdjust="spacingAndGlyphs">TLR2</text>
<text x="2939" y="1921" textLength="62" lengthAdjust="spacingAndGlyphs">AKTL10</text>
<text x="2932" y="2015" textLength="80" lengthAdjust="spacingAndGlyphs">TLRK4</text>
<text x="2931" y="2104" textLength="70" lengthAdjust="spacingAndGlyphs">RASR11</text>
<text x="2937" y="2183" textLength="80" lengthAdjust="spacingAndGlyphs">TNF12</text>
<text x="2929" y="2274" textLength="76" lengthAdjust="spacingAndGlyphs">ZNFR2</text>
<text x="2928" y="2368" textLength="76" lengthAdjust="spacingAndGlyphs">ZNFR17</text>
<text x="2929" y="2455" textLength="80" lengthAdjust="spacingAndGlyphs">MYDR1</text>
<text x="2927" y="2552" textLength="80" lengthAdjust="spacingAndGlyphs">MAPB17</text>
<text x="2930" y="2634" textLength="62" lengthAdjust="spacingAndGlyphs">SMAB2</text>
<text x="2933" y="2731" textLength="83" lengthAdjust="spacingAndGlyphs">GRBK3</text>
<text x="2931" y="2821" textLength="83" lengthAdjust="spacingAndGlyphs">AKTR6</text>
<text x="2932" y="2904" textLength="80" lengthAdjust="spacingAndGlyphs">MAPA7</text>
<text x="2932" y="2985" textLength="76" lengthAdjust="spacingAndGlyphs">EGFL2</text>
<text x="2931" y="3077" textLength="62" lengthAdjust="spacingAndGlyphs">SMAB4</text>
<text x="2925" y="3177" textLength="80" lengthAdjust="spacingAndGlyphs">CXCL6</text>
<text x="3025" y="1378" textLength="80" lengthAdjust="spacingAndGlyphs">GRBR17</text>
<text x="3019" y="1463" textLength="76" lengthAdjust="spacingAndGlyphs">GRBK10</text>
<text x="3021" y="1548" textLength="70" lengthAdjust="spacingAndGlyphs">CXCK16</text>
<text x="3028" y="1642" textLength="70" lengthAdjust="spacingAndGlyphs">TLRP3</text>
<text x="3025" y="1735" textLength="80" lengthAdjust="spacingAndGlyphs">FGFP18</text>
<text x="3030" y="1820" textLength="62" lengthAdjust="spacingAndGlyphs">PTPR12</text>
<text x="3026" y="1910" textLength="62" lengthAdjust="spacingAndGlyphs">PRKB3</text>
<text x="3025" y="2003" textLength="80" lengthAdjust="spacingAndGlyphs">TGFP1</text>
<text x="3024" y="2090" textLength="76" lengthAdjust="spacingAndGlyphs">PIKR9</text>
<text x="3024" y="2186" textLength="80" lengthAdjust="spacingAndGlyphs">TGFA17</text>
<text x="3031" y="2354" textLength="70" lengthAdjust="spacingAndGlyphs">PRKP8</text>
<text x="3025" y="2454" textLength="80" lengthAdjust="spacingAndGlyphs">JAKA2</text>
<text x="3029" y="2531" textLength="76" lengthAdjust="spacingAndGlyphs">GRBR17</text>
<text x="3019" y="2625" textLength="70" lengthAdjust="spacingAndGlyphs">MYDL15</text>
<text x="3019" y="2711" textLength="83" lengthAdjust="spacingAndGlyphs">HGFR6</text>
<text x="3019" y="2808" textLength="80" lengthAdjust="spacingAndGlyphs">IRAP9</text>
<text x="3028" y="2901" textLength="83" lengthAdjust="spacingAndGlyphs">CEBK11</text>
<text x="3020" y="2987" textLength="80" lengthAdjust="spacingAndGlyphs">PTPP8</text>
<text x="3027" y="3068" textLength="83" lengthAdjust="spacingAndGlyphs">PIKR10</text>
<text x="3030" y="3170" textLength="83" lengthAdjust="spacingAndGlyphs">JAKP5</text>
<text x="3112" y="1356" textLength="70" lengthAdjust="spacingAndGlyphs">HGFR17</text>
<text x="3117" y="1444" textLength="76" lengthAdjust="spacingAndGlyphs">SOCK11</text>
<text x="3113" y="1533" textLength="70" lengthAdjust="spacingAndGlyphs">TNFP4</text>
<text x="3120" y="1618" textLength="70" lengthAdjust="spacingAndGlyphs">CCR7</text>
<text x="3118" y="1714" textLength="80" lengthAdjust="spacingAndGlyphs">JAKK10</text>
<text x="3110" y="1802" textLength="76" lengthAdjust="spacingAndGlyphs">CDKR7</text>
<text x="3119" y="1894" textLength="62" lengthAdjust="spacingAndGlyphs">PTP9</text>
<text x="3111" y="1991" textLength="70" lengthAdjust="spacingAndGlyphs">TGFB15</text>
<text x="3121" y="2081" textLength="62" lengthAdjust="spacingAndGlyphs">MAPB14</text>
<text x="3111" y="2159" textLength="70" lengthAdjust="spacingAndGlyphs">NFKP10</text>
<text x="3111" y="2256" textLength="80" lengthAdjust="spacingAndGlyphs">MAPK9</text>
<text x="3114" y="2336" textLength="83" lengthAdjust="spacingAndGlyphs">HGFB1</text>
<text x="3116" y="2438" textLength="70" lengthAdjust="spacingAndGlyphs">ZNFL14</text>
<text x="3121" y="2517" textLength="83" lengthAdjust="spacingAndGlyphs">GRBP14</text>
<text x="3112" y="2617" textLength="70" lengthAdjust="spacingAndGlyphs">CCRP19</text>
<text x="3118" y="2703" textLength="70" lengthAdjust="spacingAndGlyphs">CCRK4</text>
<text x="3111" y="2782" textLength="80" lengthAdjust="spacingAndGlyphs">CDKR9</text>
<text x="3120" y="2877" textLength="62" lengthAdjust="spacingAndGlyphs">TGFB8</text>
<text x="3111" y="2975" textLength="80" lengthAdjust="spacingAndGlyphs">CXCP6</text>
<text x="3119" y="3062" textLength="76" lengthAdjust="spacingAndGlyphs">MYDB16</text>
<text x="3111" y="3153" textLength="80" lengthAdjust="spacingAndGlyphs">MAPA14</text>
<text x="3206" y="1374" textLength="83" lengthAdjust="spacingAndGlyphs">CCRP6</text>
<text x="3210" y="1466" textLength="76" lengthAdjust="spacingAndGlyphs">EGF13</text>
<text x="3204" y="1554" textLength="80" lengthAdjust="spacingAndGlyphs">ZNF2</text>
<text x="3203" y="1644" textLength="76" lengthAdjust="spacingAndGlyphs">STAK6</text>
<text x="3207" y="1735" textLength="70" lengthAdjust="spacingAndGlyphs">NFKR4</text>
<text x="3213" y="1825" textLength="83" lengthAdjust="spacingAndGlyphs">IRAA7</text>
<text x="3210" y="1912" textLength="80" lengthAdjust="spacingAndGlyphs">NFK12</text>
<text x="3206" y="2089" textLength="83" lengthAdjust="spacingAndGlyphs">BMPB15</text>
<text x="3213" y="2187" textLength="70" lengthAdjust="spacingAndGlyphs">CCRK13</text>
<text x="3205" y="2275" textLength="83" lengthAdjust="spacingAndGlyphs">EGF12</text>
<text x="3214" y="2453" textLength="62" lengthAdjust="spacingAndGlyphs">TNFR13</text>
<text x="3209" y="2549" textLength="80" lengthAdjust="spacingAndGlyphs">STK3</text>
<text x="3208" y="2633" textLength="80" lengthAdjust="spacingAndGlyphs">ZNFB12</text>
<text x="3212" y="2731" textLength="83" lengthAdjust="spacingAndGlyphs">TNF8</text>
<text x="3207" y="2818" textLength="76" lengthAdjust="spacingAndGlyphs">HGFB17</text>
<text x="3212" y="2904" textLength="70" lengthAdjust="spacingAndGlyphs">FGFB15</text>
<text x="3203" y="3075" textLength="70" lengthAdjust="spacingAndGlyphs">SOCK3</text>
<text x="3203" y="3174" textLength="70" lengthAdjust="spacingAndGlyphs">TRAP18</text>
<text x="3297" y="1534" textLength="70" lengthAdjust="spacingAndGlyphs">AKTK12</text>
<text x="3299" y="1632" textLength="80" lengthAdjust="spacingAndGlyphs">IRAR18</text>
<text x="3309" y="1715" textLength="70" lengthAdjust="spacingAndGlyphs">EGFL16</text>
<text x="3298" y="1811" textLength="76" lengthAdjust="spacingAndGlyphs">FGFL8</text>
<text x="3299" y="1891" textLength="76" lengthAdjust="spacingAndGlyphs">CXCB9</text>
<text x="3295" y="1981" textLength="80" lengthAdjust="spacingAndGlyphs">CCRK16</text>
<text x="3302" y="2072" textLength="62" lengthAdjust="spacingAndGlyphs">FGFP9</text>
<text x="3298" y="2162" textLength="76" lengthAdjust="spacingAndGlyphs">CEBP10</text>
<text x="3295" y="2247" textLength="76" lengthAdjust="spacingAndGlyphs">TRAB14</text>
<text x="3296" y="2339" textLength="83" lengthAdjust="spacingAndGlyphs">PTP12</text>
<text x="3296" y="2422" textLength="70" lengthAdjust="spacingAndGlyphs">ZNFR13</text>
<text x="3299" y="2515" textLength="62" lengthAdjust="spacingAndGlyphs">ILL19</text>
<text x="3303" y="2609" textLength="76" lengthAdjust="spacingAndGlyphs">FGFK17</text>
<text x="3306" y="2701" textLength="76" lengthAdjust="spacingAndGlyphs">PTPA1</text>
<text x="3305" y="2794" textLength="62" lengthAdjust="spacingAndGlyphs">PIK10</text>
<text x="3300" y="2875" textLength="76" lengthAdjust="spacingAndGlyphs">SHC19</text>
<text x="3305" y="3059" textLength="70" lengthAdjust="spacingAndGlyphs">MYDK6</text>
<text x="3296" y="3151" textLength="80" lengthAdjust="spacingAndGlyphs">SMAL5</text>
<text x="3307" y="3237" textLength="70" lengthAdjust="spacingAndGlyphs">TGFB18</text>
<text x="3399" y="1471" textLength="70" lengthAdjust="spacingAndGlyphs">SHCP3</text>
<text x="3396" y="1562" textLength="83" lengthAdjust="spacingAndGlyphs">FGFP10</text>
<text x="3397" y="1648" textLength="70" lengthAdjust="spacingAndGlyphs">TRAP7</text>
<text x="3391" y="1727" textLength="83" lengthAdjust="spacingAndGlyphs">ILP15</text>
<text x="3389" y="1919" textLength="62" lengthAdjust="spacingAndGlyphs">STA9</text>
<text x="3395" y="2005" textLength="80" lengthAdjust="spacingAndGlyphs">CEBL5</text>
<text x="3396" y="2095" textLength="80" lengthAdjust="spacingAndGlyphs">TRAA2</text>
<text x="3394" y="2174" textLength="80" lengthAdjust="spacingAndGlyphs">IRAK16</text>
<text x="3399" y="2276" textLength="70" lengthAdjust="spacingAndGlyphs">TRAK18</text>
<text x="3395" y="2362" textLength="83" lengthAdjust="spacingAndGlyphs">MYDP1</text>
<text x="3397" y="2444" textLength="70" lengthAdjust="spacingAndGlyphs">AKTR15</text>
<text x="3398" y="2536" textLength="83" lengthAdjust="spacingAndGlyphs">TRAP10</text>
<text x="3389" y="2626" textLength="80" lengthAdjust="spacingAndGlyphs">SMAB14</text>
<text x="3398" y="2714" textLength="62" lengthAdjust="spacingAndGlyphs">SOCP12</text>
<text x="3394" y="2896" textLength="62" lengthAdjust="spacingAndGlyphs">MAPA2</text>
<text x="3394" y="2990" textLength="76" lengthAdjust="spacingAndGlyphs">FGF17</text>
<text x="3398" y="3079" textLength="80" lengthAdjust="spacingAndGlyphs">TRAL5</text>
<text x="3396" y="3160" textLength="62" lengthAdjust="spacingAndGlyphs">PIKP14</text>
<text x="3489" y="1533" textLength="70" lengthAdjust="spacingAndGlyphs">BMP12</text>
<text x="3487" y="1626" textLength="76" lengthAdjust="spacingAndGlyphs">TRAL17</text>
<text x="3487" y="1710" textLength="83" lengthAdjust="spacingAndGlyphs">EGFK10</text>
<text x="3493" y="1800" textLength="80" lengthAdjust="spacingAndGlyphs">BMPB9</text>
<text x="3494" y="1902" textLength="83" lengthAdjust="spacingAndGlyphs">STKL10</text>
<text x="3483" y="2260" textLength="76" lengthAdjust="spacingAndGlyphs">SMAL16</text>
<text x="3483" y="2343" textLength="80" lengthAdjust="spacingAndGlyphs">BMPA9</text>
<text x="3482" y="2432" textLength="83" lengthAdjust="spacingAndGlyphs">SMAK16</text>
<text x="3491" y="2611" textLength="62" lengthAdjust="spacingAndGlyphs">BMPK11</text>
<text x="3492" y="2703" textLength="76" lengthAdjust="spacingAndGlyphs">JAKA3</text>
<text x="3483" y="2796" textLength="62" lengthAdjust="spacingAndGlyphs">PRKP18</text>
<text x="3487" y="2872" textLength="80" lengthAdjust="spacingAndGlyphs">STAA2</text>
<text x="3480" y="2968" textLength="80" lengthAdjust="spacingAndGlyphs">RAS1</text>
<text x="3486" y="3055" textLength="62" lengthAdjust="spacingAndGlyphs">PIKL16</text>
<text x="3482" y="3145" textLength="83" lengthAdjust="spacingAndGlyphs">EGFP2</text>
<text x="3578" y="1536" textLength="83" lengthAdjust="spacingAndGlyphs">ZNFA13</text>
<text x="3586" y="1629" textLength="83" lengthAdjust="spacingAndGlyphs">JAKP3</text>
<text x="3578" y="1716" textLength="70" lengthAdjust="spacingAndGlyphs">STKP15</text>
<text x="3574" y="1901" textLength="70" lengthAdjust="spacingAndGlyphs">TLRP6</text>
<text x="3576" y="1992" textLength="62" lengthAdjust="spacingAndGlyphs">CDKL4</text>
<text x="3576" y="2071" textLength="62" lengthAdjust="spacingAndGlyphs">SMAL5</text>
<text x="3580" y="2159" textLength="76" lengthAdjust="spacingAndGlyphs">STAP9</text>
<text x="3585" y="2348" textLength="76" lengthAdjust="spacingAndGlyphs">SOCB2</text>
<text x="3581" y="2439" textLength="76" lengthAdjust="spacingAndGlyphs">MAPB19</text>
<text x="3586" y="2523" textLength="83" lengthAdjust="spacingAndGlyphs">ZNF16</text>
<text x="3583" y="2605" textLength="83" lengthAdjust="spacingAndGlyphs">NFK4</text>
<text x="3583" y="2700" textLength="80" lengthAdjust="spacingAndGlyphs">GRBP13</text>
<text x="3583" y="2793" textLength="80" lengthAdjust="spacingAndGlyphs">IL13</text>
<text x="3577" y="2873" textLength="83" lengthAdjust="spacingAndGlyphs">GRBP5</text>
<text x="3585" y="2964" textLength="80" lengthAdjust="spacingAndGlyphs">EGFB18</text>
<text x="3579" y="3057" textLength="62" lengthAdjust="spacingAndGlyphs">ILP16</text>
<text x="3577" y="3153" textLength="70" lengthAdjust="spacingAndGlyphs">TGFK1</text>
<text x="3586" y="3234" textLength="80" lengthAdjust="spacingAndGlyphs">MAP4</text>
<text x="3678" y="1653" textLength="62" lengthAdjust="spacingAndGlyphs">PIKL4</text>
<text x="3671" y="1728" textLength="70" lengthAdjust="spacingAndGlyphs">TRA9</text>
<text x="3668" y="1999" textLength="83" lengthAdjust="spacingAndGlyphs">CEBB6</text>
<text x="3671" y="2271" textLength="62" lengthAdjust="spacingAndGlyphs">SMAL5</text>
<text x="3670" y="2358" textLength="62" lengthAdjust="spacingAndGlyphs">RASP18</text>
<text x="3666" y="2447" textLength="80" lengthAdjust="spacingAndGlyphs">IRAP9</text>
<text x="3679" y="2534" textLength="62" lengthAdjust="spacingAndGlyphs">CXC1</text>
<text x="3677" y="2714" textLength="62" lengthAdjust="spacingAndGlyphs">MAPP3</text>
<text x="3669" y="2804" textLength="80" lengthAdjust="spacingAndGlyphs">RASR6</text>
<text x="3671" y="2897" textLength="80" lengthAdjust="spacingAndGlyphs">SHC11</text>
<text x="3678" y="2993" textLength="76" lengthAdjust="spacingAndGlyphs">GRBP15</text>
<text x="3677" y="3069" textLength="80" lengthAdjust="spacingAndGlyphs">CCRK5</text>
<text x="3665" y="3169" textLength="62" lengthAdjust="spacingAndGlyphs">SMAP6</text>
<text x="3759" y="1570" textLength="80" lengthAdjust="spacingAndGlyphs">TRAB15</text>
<text x="3765" y="1668" textLength="76" lengthAdjust="spacingAndGlyphs">FGFL19</text>
<text x="3771" y="1759" textLength="76" lengthAdjust="spacingAndGlyphs">RASR2</text>
<text x="3767" y="1849" textLength="83" lengthAdjust="spacingAndGlyphs">PTPP11</text>
<text x="3764" y="1935" textLength="83" lengthAdjust="spacingAndGlyphs">HGF5</text>
<text x="3767" y="2199" textLength="83" lengthAdjust="spacingAndGlyphs">AKTR19</text>
<text x="3759" y="2288" textLength="80" lengthAdjust="spacingAndGlyphs">TGFK13</text>
<text x="3759" y="2464" textLength="80" lengthAdjust="spacingAndGlyphs">CCRB8</text>
<text x="3763" y="2646" textLength="80" lengthAdjust="spacingAndGlyphs">RASP1</text>
<text x="3766" y="2732" textLength="76" lengthAdjust="spacingAndGlyphs">TNFR14</text>
<text x="3762" y="2828" textLength="70" lengthAdjust="spacingAndGlyphs">GRBL2</text>
<text x="3771" y="2921" textLength="76" lengthAdjust="spacingAndGlyphs">AKTK19</text>
<text x="3770" y="3008" textLength="70" lengthAdjust="spacingAndGlyphs">TNFL18</text>
<text x="3761" y="3093" textLength="80" lengthAdjust="spacingAndGlyphs">SMAA3</text>
<text x="3771" y="3190" textLength="83" lengthAdjust="spacingAndGlyphs">STAB13</text>
<text x="3860" y="1624" textLength="70" lengthAdjust="spacingAndGlyphs">FGFL8</text>
<text x="3861" y="1722" textLength="76" lengthAdjust="spacingAndGlyphs">SHC13</text>
<text x="3857" y="1803" textLength="80" lengthAdjust="spacingAndGlyphs">CXCK9</text>
<text x="3853" y="2081" textLength="83" lengthAdjust="spacingAndGlyphs">EGF13</text>
<text x="3854" y="2173" textLength="80" lengthAdjust="spacingAndGlyphs">STA18</text>
<text x="3853" y="2344" textLength="76" lengthAdjust="spacingAndGlyphs">EGF8</text>
<text x="3859" y="2442" textLength="80" lengthAdjust="spacingAndGlyphs">GRBA9</text>
<text x="3852" y="2522" textLength="83" lengthAdjust="spacingAndGlyphs">BMPB17</text>
<text x="3853" y="2621" textLength="83" lengthAdjust="spacingAndGlyphs">PIKK7</text>
<text x="3852" y="2696" textLength="70" lengthAdjust="spacingAndGlyphs">ILK10</text>
<text x="3851" y="2791" textLength="76" lengthAdjust="spacingAndGlyphs">GRBA12</text>
<text x="3863" y="2888" textLength="80" lengthAdjust="spacingAndGlyphs">EGFA5</text>
<text x="3860" y="2979" textLength="70" lengthAdjust="spacingAndGlyphs">STKB12</text>
<text x="3863" y="3058" textLength="62" lengthAdjust="spacingAndGlyphs">SMAP15</text>
<text x="3853" y="3157" textLength="62" lengthAdjust="spacingAndGlyphs">JAKR1</text>
<text x="3860" y="3232" textLength="76" lengthAdjust="spacingAndGlyphs">TNFA1</text>
<text x="3947" y="1729" textLength="62" lengthAdjust="spacingAndGlyphs">STKK19</text>
<text x="3943" y="1902" textLength="80" lengthAdjust="spacingAndGlyphs">GRBA7</text>
<text x="3945" y="2079" textLength="76" lengthAdjust="spacingAndGlyphs">ZNFL9</text>
<text x="3953" y="2343" textLength="80" lengthAdjust="spacingAndGlyphs">TLRB19</text>
<text x="3955" y="2525" textLength="83" lengthAdjust="spacingAndGlyphs">JAKR2</text>
<text x="3953" y="2625" textLength="76" lengthAdjust="spacingAndGlyphs">PIKK13</text>
<text x="3947" y="2704" textLength="62" lengthAdjust="spacingAndGlyphs">MAP2</text>
<text x="3956" y="2799" textLength="83" lengthAdjust="spacingAndGlyphs">SMAL15</text>
<text x="3946" y="2891" textLength="80" lengthAdjust="spacingAndGlyphs">MYD13</text>
<text x="3947" y="2973" textLength="62" lengthAdjust="spacingAndGlyphs">CXC9</text>
<text x="3943" y="3070" textLength="76" lengthAdjust="spacingAndGlyphs">GRBK3</text>
<text x="3955" y="3158" textLength="83" lengthAdjust="spacingAndGlyphs">PRKK15</text>
<text x="3956" y="3237" textLength="70" lengthAdjust="spacingAndGlyphs">SMAK8</text>
<text x="4047" y="1749" textLength="70" lengthAdjust="spacingAndGlyphs">STKR12</text>
<text x="4039" y="1921" textLength="62" lengthAdjust="spacingAndGlyphs">TGFA1</text>
<text x="4038" y="2107" textLength="62" lengthAdjust="spacingAndGlyphs">TNFL17</text>
<text x="4047" y="2468" textLength="80" lengthAdjust="spacingAndGlyphs">STK5</text>
<text x="4036" y="2640" textLength="76" lengthAdjust="spacingAndGlyphs">EGF7</text>
<text x="4045" y="2728" textLength="76" lengthAdjust="spacingAndGlyphs">GRBA15</text>
<text x="4038" y="2817" textLength="62" lengthAdjust="spacingAndGlyphs">TRAR12</text>
<text x="4044" y="2911" textLength="76" lengthAdjust="spacingAndGlyphs">PRK12</text>
<text x="4045" y="3003" textLength="80" lengthAdjust="spacingAndGlyphs">PRKK15</text>
<text x="4044" y="3081" textLength="70" lengthAdjust="spacingAndGlyphs">FGFK1</text>
<text x="4047" y="3173" textLength="80" lengthAdjust="spacingAndGlyphs">CXCK2</text>
<text x="4139" y="1764" textLength="70" lengthAdjust="spacingAndGlyphs">ZNFL8</text>
<text x="4141" y="1844" textLength="62" lengthAdjust="spacingAndGlyphs">ZNFA12</text>
<text x="4134" y="1945" textLength="70" lengthAdjust="spacingAndGlyphs">EGFB4</text>
<text x="4139" y="2036" textLength="80" lengthAdjust="spacingAndGlyphs">AKT3</text>
<text x="4128" y="2116" textLength="80" lengthAdjust="spacingAndGlyphs">BMPR8</text>
<text x="4129" y="2204" textLength="80" lengthAdjust="spacingAndGlyphs">TLRP12</text>
<text x="4141" y="2300" textLength="70" lengthAdjust="spacingAndGlyphs">BMPK2</text>
<text x="4141" y="2386" textLength="70" lengthAdjust="spacingAndGlyphs">CXCB18</text>
<text x="4141" y="2650" textLength="70" lengthAdjust="spacingAndGlyphs">IRAL5</text>
<text x="4136" y="2748" textLength="76" lengthAdjust="spacingAndGlyphs">CDKB8</text>
<text x="4131" y="2833" textLength="70" lengthAdjust="spacingAndGlyphs">MAPR19</text>
<text x="4129" y="2920" textLength="76" lengthAdjust="spacingAndGlyphs">BMPL6</text>
<text x="4131" y="3016" textLength="76" lengthAdjust="spacingAndGlyphs">TRA11</text>
<text x="4137" y="3099" textLength="80" lengthAdjust="spacingAndGlyphs">TGFB4</text>
<text x="4224" y="1839" textLength="70" lengthAdjust="spacingAndGlyphs">NFK7</text>
<text x="4224" y="1922" textLength="83" lengthAdjust="spacingAndGlyphs">TRAL10</text>
<text x="4225" y="2185" textLength="62" lengthAdjust="spacingAndGlyphs">TNFL7</text>
<text x="4226" y="2463" textLength="76" lengthAdjust="spacingAndGlyphs">CDKR8</text>
<text x="4226" y="2554" textLength="70" lengthAdjust="spacingAndGlyphs">TLRB10</text>
<text x="4226" y="2632" textLength="80" lengthAdjust="spacingAndGlyphs">TGFK2</text>
<text x="4220" y="2727" textLength="76" lengthAdjust="spacingAndGlyphs">JAKP1</text>
<text x="4229" y="2823" textLength="80" lengthAdjust="spacingAndGlyphs">FGFA11</text>
<text x="4221" y="2907" textLength="83" lengthAdjust="spacingAndGlyphs">JAKB1</text>
<text x="4225" y="2995" textLength="83" lengthAdjust="spacingAndGlyphs">RASK12</text>
<text x="4222" y="3081" textLength="80" lengthAdjust="spacingAndGlyphs">STKB7</text>
<text x="4324" y="1996" textLength="76" lengthAdjust="spacingAndGlyphs">GRBK5</text>
<text x="4316" y="2089" textLength="70" lengthAdjust="spacingAndGlyphs">NFKL8</text>
<text x="4320" y="2178" textLength="70" lengthAdjust="spacingAndGlyphs">PIKA3</text>
<text x="4314" y="2266" textLength="62" lengthAdjust="spacingAndGlyphs">TGFA16</text>
<text x="4323" y="2365" textLength="76" lengthAdjust="spacingAndGlyphs">SOCK5</text>
<text x="4313" y="2450" textLength="83" lengthAdjust="spacingAndGlyphs">CCRP7</text>
<text x="4323" y="2531" textLength="83" lengthAdjust="spacingAndGlyphs">RASK1</text>
<text x="4324" y="2622" textLength="62" lengthAdjust="spacingAndGlyphs">CXCP17</text>
<text x="4321" y="2718" textLength="80" lengthAdjust="spacingAndGlyphs">AKTP2</text>
<text x="4321" y="2804" textLength="83" lengthAdjust="spacingAndGlyphs">FGFR11</text>
<text x="4318" y="2897" textLength="76" lengthAdjust="spacingAndGlyphs">AKTP16</text>
<text x="4415" y="2305" textLength="62" lengthAdjust="spacingAndGlyphs">MAPB16</text>
<text x="4408" y="2397" textLength="70" lengthAdjust="spacingAndGlyphs">MYDP9</text>
<text x="4412" y="2486" textLength="70" lengthAdjust="spacingAndGlyphs">SOCA12</text>
<text x="4418" y="2563" textLength="62" lengthAdjust="spacingAndGlyphs">SOCP12</text>
<text x="4416" y="2665" textLength="83" lengthAdjust="spacingAndGlyphs">SHCL1</text>
<text x="4406" y="2745" textLength="76" lengthAdjust="spacingAndGlyphs">NFKB17</text>
<text x="3505" y="1990" textLength="62" lengthAdjust="spacingAndGlyphs">TLRR8</text>
<text x="3514" y="2100" textLength="76" lengthAdjust="spacingAndGlyphs">EGFP13</text>
<text x="3624" y="2092" textLength="83" lengthAdjust="spacingAndGlyphs">EGF10</text>
<text x="3707" y="2190" textLength="62" lengthAdjust="spacingAndGlyphs">HGFB15</text>
<text x="3520" y="2205" textLength="83" lengthAdjust="spacingAndGlyphs">MAPA18</text>
<text x="3615" y="2230" textLength="70" lengthAdjust="spacingAndGlyphs">MAPK3</text>
<text x="3269" y="1466" textLength="70" lengthAdjust="spacingAndGlyphs">SHCK6</text>
<text x="2757" y="1640" textLength="62" lengthAdjust="spacingAndGlyphs">RASR18</text>
<text x="2539" y="1999" textLength="62" lengthAdjust="spacingAndGlyphs">MAP7</text>
<text x="3716" y="1784" textLength="76" lengthAdjust="spacingAndGlyphs">MAPL19</text>
<text x="3615" y="1787" textLength="80" lengthAdjust="spacingAndGlyphs">NFKK15</text>
<text x="3936" y="1796" textLength="62" lengthAdjust="spacingAndGlyphs">SMAL4</text>
<text x="3890" y="1888" textLength="70" lengthAdjust="spacingAndGlyphs">STKR4</text>
<text x="3698" y="1885" textLength="80" lengthAdjust="spacingAndGlyphs">TRAA17</text>
<text x="3725" y="1984" textLength="76" lengthAdjust="spacingAndGlyphs">TLR4</text>
<text x="3835" y="2017" textLength="80" lengthAdjust="spacingAndGlyphs">TGFK18</text>
<text x="3938" y="1990" textLength="83" lengthAdjust="spacingAndGlyphs">CEBL8</text>
<text x="3725" y="2092" textLength="70" lengthAdjust="spacingAndGlyphs">CCRA15</text>
<text x="4046" y="1978" textLength="80" lengthAdjust="spacingAndGlyphs">SOCL1</text>
<text x="4193" y="2010" textLength="80" lengthAdjust="spacingAndGlyphs">CXCB17</text>
<text x="4028" y="1824" textLength="62" lengthAdjust="spacingAndGlyphs">PRK12</text>
<text x="4202" y="2109" textLength="76" lengthAdjust="spacingAndGlyphs">PRKK11</text>
<text x="3808" y="2264" textLength="80" lengthAdjust="spacingAndGlyphs">AKTA11</text>
<text x="4202" y="2302" textLength="80" lengthAdjust="spacingAndGlyphs">MYDA2</text>
<text x="3973" y="2393" textLength="76" lengthAdjust="spacingAndGlyphs">NFKK12</text>
<text x="3707" y="2660" textLength="70" lengthAdjust="spacingAndGlyphs">MYDB1</text>
<text x="3427" y="2816" textLength="76" lengthAdjust="spacingAndGlyphs">TLRA6</text>
<text x="3314" y="3005" textLength="62" lengthAdjust="spacingAndGlyphs">BMPB7</text>
<text x="3216" y="2384" textLength="83" lengthAdjust="spacingAndGlyphs">CCR8</text>
<text x="3023" y="2293" textLength="70" lengthAdjust="spacingAndGlyphs">CDKB15</text>
<text x="3225" y="2026" textLength="62" lengthAdjust="spacingAndGlyphs">FGF2</text>
<text x="3408" y="1833" textLength="83" lengthAdjust="spacingAndGlyphs">TNFP9</text>
<text x="4074" y="2154" textLength="83" lengthAdjust="spacingAndGlyphs">FGF4</text>
<text x="3990" y="2200" textLength="76" lengthAdjust="spacingAndGlyphs">TLRA1</text>
<text x="3982" y="2288" textLength="80" lengthAdjust="spacingAndGlyphs">CEB10</text>
<text x="4074" y="2255" textLength="62" lengthAdjust="spacingAndGlyphs">RASR6</text>
<text x="3790" y="2375" textLength="62" lengthAdjust="spacingAndGlyphs">STKA17</text>
<text x="3790" y="2559" textLength="76" lengthAdjust="spacingAndGlyphs">ILB19</text>
<text x="3514" y="2504" textLength="83" lengthAdjust="spacingAndGlyphs">ZNFK15</text>
<text x="2739" y="2899" textLength="62" lengthAdjust="spacingAndGlyphs">NFKK10</text>
<text x="3215" y="2987" textLength="80" lengthAdjust="spacingAndGlyphs">GRBR9</text>
<text x="4083" y="2375" textLength="70" lengthAdjust="spacingAndGlyphs">HGF18</text>
<text x="4147" y="2440" textLength="76" lengthAdjust="spacingAndGlyphs">AKTB19</text>
<text x="4240" y="2416" textLength="70" lengthAdjust="spacingAndGlyphs">PTPB7</text>
<text x="4060" y="2550" textLength="83" lengthAdjust="spacingAndGlyphs">CXCR15</text>
<text x="4170" y="2590" textLength="83" lengthAdjust="spacingAndGlyphs">RASA16</text>
</g></g>
<text x="453.8" y="146.8" font-size="3.3" textLength="27.4" lengthAdjust="spacingAndGlyphs" fill="#222" stroke="#222" stroke-width="0.1">COLOR LEGEND</text>
<rect x="455.3" y="154.90" width="7.6" height="3.8" rx="0.5" fill="#f5993a"/>
<text x="466.0" y="157.8" font-size="3.0" textLength="10.5" lengthAdjust="spacingAndGlyphs" fill="#1a1a1a" stroke="#1a1a1a" stroke-width="0.1">Kinases</text>
<rect x="455.3" y="161.93" width="7.6" height="3.8" rx="0.5" fill="#9c9c9c"/>
<text x="466.0" y="164.83" font-size="3.0" textLength="30.0" lengthAdjust="spacingAndGlyphs" fill="#1a1a1a" stroke="#1a1a1a" stroke-width="0.1">Protein kinase cascade</text>
<rect x="455.3" y="168.96" width="7.6" height="3.8" rx="0.5" fill="#b94aae"/>
<text x="466.0" y="171.86" font-size="3.0" textLength="47.5" lengthAdjust="spacingAndGlyphs" fill="#1a1a1a" stroke="#1a1a1a" stroke-width="0.1">Phosphoinositide mediated signaling</text>
<rect x="455.3" y="175.99" width="7.6" height="3.8" rx="0.5" fill="#8f9a30"/>
<text x="466.0" y="178.89000000000001" font-size="3.0" textLength="36.0" lengthAdjust="spacingAndGlyphs" fill="#1a1a1a" stroke="#1a1a1a" stroke-width="0.1">Transcription-related genes</text>
<rect x="455.3" y="183.02" width="7.6" height="3.8" rx="0.5" fill="#a9dbe8"/>
<text x="466.0" y="185.92000000000002" font-size="3.0" textLength="33.5" lengthAdjust="spacingAndGlyphs" fill="#1a1a1a" stroke="#1a1a1a" stroke-width="0.1">STAT transcription factors</text>
<rect x="455.3" y="190.05" width="7.6" height="3.8" rx="0.5" fill="#f8cadb"/>
<text x="466.0" y="192.95000000000002" font-size="3.0" textLength="34.0" lengthAdjust="spacingAndGlyphs" fill="#1a1a1a" stroke="#1a1a1a" stroke-width="0.1">CEBP transcription factors</text>
<rect x="455.3" y="197.08" width="7.6" height="3.8" rx="0.5" fill="#1f9cb8"/>
<text x="466.0" y="199.98000000000002" font-size="3.0" textLength="22.5" lengthAdjust="spacingAndGlyphs" fill="#1a1a1a" stroke="#1a1a1a" stroke-width="0.1">Adapter proteins*</text>
<rect x="455.3" y="204.11" width="7.6" height="3.8" rx="0.5" fill="#f6ea45"/>
<text x="466.0" y="207.01000000000002" font-size="3.0" textLength="36.0" lengthAdjust="spacingAndGlyphs" fill="#1a1a1a" stroke="#1a1a1a" stroke-width="0.1">C2-domain-containing genes</text>
<rect x="455.3" y="211.14" width="7.6" height="3.8" rx="0.5" fill="#3cb54a"/>
<text x="466.0" y="214.04000000000002" font-size="3.0" textLength="40.0" lengthAdjust="spacingAndGlyphs" fill="#1a1a1a" stroke="#1a1a1a" stroke-width="0.1">Defense/Inflammatory response</text>
<rect x="455.3" y="218.17" width="7.6" height="3.8" rx="0.5" fill="#cbd5dc"/>
<text x="466.0" y="221.07000000000002" font-size="3.0" textLength="52.6" lengthAdjust="spacingAndGlyphs" fill="#1a1a1a" stroke="#1a1a1a" stroke-width="0.1">Other signal-transduction-related genes</text>
<text x="454.0" y="238.4" font-size="3.3" textLength="27.6" lengthAdjust="spacingAndGlyphs" fill="#222" stroke="#222" stroke-width="0.1">SHAPE LEGEND</text>
<circle cx="459.4" cy="246.2" r="3.0" fill="#fff" stroke="#bdbdbd" stroke-width="0.45"/>
<text x="466.5" y="247.2" font-size="3.0" textLength="40.0" lengthAdjust="spacingAndGlyphs" fill="#222" stroke="#222" stroke-width="0.1">SH2 domain-containing genes</text>
<polygon points="459.4,252.4 462.6,258.6 456.2,258.6" fill="#fff" stroke="#bdbdbd" stroke-width="0.45"/>
<text x="466.5" y="257.2" font-size="3.0" textLength="21.0" lengthAdjust="spacingAndGlyphs" fill="#222" stroke="#222" stroke-width="0.1">Ras suppressors</text>
<text x="454.0" y="269.7" font-size="3.3" textLength="29.4" lengthAdjust="spacingAndGlyphs" fill="#222" stroke="#222" stroke-width="0.1">BORDER LEGEND</text>
<rect x="456.0" y="272.9" width="8.0" height="8.0" rx="1.2" fill="#fff" stroke="#d6de2a" stroke-width="0.9"/>
<text x="466.5" y="276.0" font-size="3.0" textLength="29.5" lengthAdjust="spacingAndGlyphs" fill="#222" stroke="#222" stroke-width="0.1">Candidates chosen for</text>
<text x="466.5" y="279.7" font-size="3.0" textLength="22.5" lengthAdjust="spacingAndGlyphs" fill="#222" stroke="#222" stroke-width="0.1">validation assays</text>
<rect x="456.0" y="285.0" width="8.4" height="8.4" rx="1.4" fill="#fff" stroke="#c9252c" stroke-width="1.0"/>
<text x="466.5" y="291.0" font-size="3.0" textLength="27.5" lengthAdjust="spacingAndGlyphs" fill="#222" stroke="#222" stroke-width="0.1">Validated candidates</text>
</svg>
</body></html>
